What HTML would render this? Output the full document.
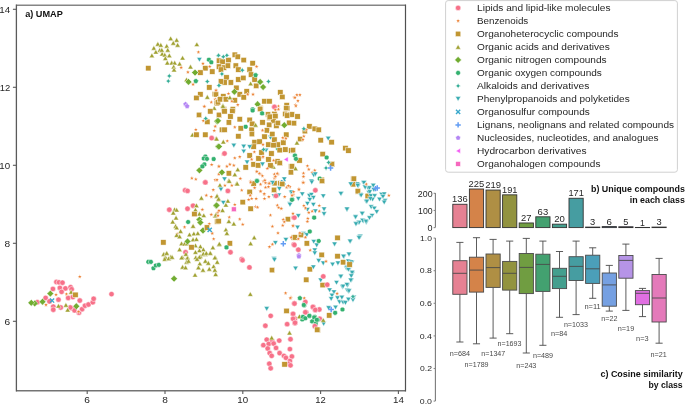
<!DOCTYPE html>
<html><head><meta charset="utf-8"><style>
html,body{margin:0;padding:0;background:#fff;}
body{width:685px;height:404px;overflow:hidden;position:relative;}
svg{position:absolute;left:0;top:0;will-change:transform;}
text{font-family:'Liberation Sans', sans-serif;}
</style></head><body>
<svg width="685" height="404" viewBox="0 0 685 404">

<clipPath id="ca"><rect x="16.5" y="5.5" width="389" height="385"/></clipPath>
<g clip-path="url(#ca)">
<polygon points="170.69,35.99 173.38,40.64 168.01,40.64" fill="#a0a131" stroke="#fff" stroke-width="0.5"/>
<polygon points="176.63,37.58 179.32,42.23 173.95,42.23" fill="#a0a131" stroke="#fff" stroke-width="0.5"/>
<polygon points="173.27,40.55 175.95,45.20 170.58,45.20" fill="#a0a131" stroke="#fff" stroke-width="0.5"/>
<polygon points="177.62,42.53 180.31,47.18 174.94,47.18" fill="#a0a131" stroke="#fff" stroke-width="0.5"/>
<polygon points="157.82,41.54 160.51,46.19 155.14,46.19" fill="#a0a131" stroke="#fff" stroke-width="0.5"/>
<polygon points="160.79,42.53 163.48,47.18 158.11,47.18" fill="#a0a131" stroke="#fff" stroke-width="0.5"/>
<polygon points="153.86,45.50 156.55,50.15 151.18,50.15" fill="#a0a131" stroke="#fff" stroke-width="0.5"/>
<polygon points="159.80,47.48 162.49,52.13 157.12,52.13" fill="#a0a131" stroke="#fff" stroke-width="0.5"/>
<polygon points="166.73,43.52 169.42,48.17 164.05,48.17" fill="#a0a131" stroke="#fff" stroke-width="0.5"/>
<polygon points="167.72,47.48 170.41,52.13 165.04,52.13" fill="#a0a131" stroke="#fff" stroke-width="0.5"/>
<polygon points="155.84,49.46 158.53,54.11 153.16,54.11" fill="#a0a131" stroke="#fff" stroke-width="0.5"/>
<polygon points="162.18,51.44 164.86,56.09 159.49,56.09" fill="#a0a131" stroke="#fff" stroke-width="0.5"/>
<polygon points="164.75,52.43 167.44,57.08 162.07,57.08" fill="#a0a131" stroke="#fff" stroke-width="0.5"/>
<polygon points="169.31,53.02 171.99,57.67 166.62,57.67" fill="#a0a131" stroke="#fff" stroke-width="0.5"/>
<polygon points="151.88,53.02 154.57,57.67 149.20,57.67" fill="#a0a131" stroke="#fff" stroke-width="0.5"/>
<polygon points="165.35,55.79 168.03,60.44 162.66,60.44" fill="#a0a131" stroke="#fff" stroke-width="0.5"/>
<polygon points="167.33,60.35 170.01,65.00 164.64,65.00" fill="#a0a131" stroke="#fff" stroke-width="0.5"/>
<polygon points="171.68,60.35 174.37,65.00 169.00,65.00" fill="#a0a131" stroke="#fff" stroke-width="0.5"/>
<polygon points="174.65,60.35 177.34,65.00 171.97,65.00" fill="#a0a131" stroke="#fff" stroke-width="0.5"/>
<polygon points="179.60,61.34 182.29,65.99 176.92,65.99" fill="#a0a131" stroke="#fff" stroke-width="0.5"/>
<polygon points="173.66,64.31 176.35,68.96 170.98,68.96" fill="#a0a131" stroke="#fff" stroke-width="0.5"/>
<polygon points="174.06,67.28 176.74,71.93 171.37,71.93" fill="#a0a131" stroke="#fff" stroke-width="0.5"/>
<polygon points="182.57,55.40 185.26,60.05 179.89,60.05" fill="#a0a131" stroke="#fff" stroke-width="0.5"/>
<polygon points="196.83,41.93 199.52,46.58 194.15,46.58" fill="#a0a131" stroke="#fff" stroke-width="0.5"/>
<polygon points="190.50,64.31 193.18,68.96 187.81,68.96" fill="#a0a131" stroke="#fff" stroke-width="0.5"/>
<polygon points="186.53,77.18 189.22,81.83 183.85,81.83" fill="#a0a131" stroke="#fff" stroke-width="0.5"/>
<polygon points="207.33,94.61 210.01,99.26 204.64,99.26" fill="#a0a131" stroke="#fff" stroke-width="0.5"/>
<polygon points="161.78,47.48 164.47,52.13 159.10,52.13" fill="#a0a131" stroke="#fff" stroke-width="0.5"/>
<rect x="145.62" y="65.52" width="5.40" height="5.40" fill="#c19632" stroke="#fff" stroke-width="0.5"/>
<rect x="202.65" y="65.52" width="5.40" height="5.40" fill="#c19632" stroke="#fff" stroke-width="0.5"/>
<rect x="197.70" y="69.87" width="5.40" height="5.40" fill="#c19632" stroke="#fff" stroke-width="0.5"/>
<rect x="209.58" y="68.88" width="5.40" height="5.40" fill="#c19632" stroke="#fff" stroke-width="0.5"/>
<rect x="206.61" y="84.73" width="5.40" height="5.40" fill="#c19632" stroke="#fff" stroke-width="0.5"/>
<rect x="197.70" y="91.66" width="5.40" height="5.40" fill="#c19632" stroke="#fff" stroke-width="0.5"/>
<rect x="193.74" y="95.22" width="5.40" height="5.40" fill="#c19632" stroke="#fff" stroke-width="0.5"/>
<rect x="212.15" y="91.26" width="5.40" height="5.40" fill="#c19632" stroke="#fff" stroke-width="0.5"/>
<rect x="214.13" y="100.57" width="5.40" height="5.40" fill="#c19632" stroke="#fff" stroke-width="0.5"/>
<polygon points="198.42,49.98 199.03,51.33 200.51,51.50 199.41,52.50 199.71,53.96 198.42,53.23 197.12,53.96 197.42,52.50 196.32,51.50 197.80,51.33" fill="#eb8032" stroke="#fff" stroke-width="0.5"/>
<polygon points="202.97,61.46 203.59,62.81 205.06,62.98 203.97,63.99 204.26,65.44 202.97,64.71 201.68,65.44 201.97,63.99 200.88,62.98 202.35,62.81" fill="#eb8032" stroke="#fff" stroke-width="0.5"/>
<polygon points="209.70,64.43 210.32,65.78 211.80,65.95 210.70,66.96 211.00,68.41 209.70,67.68 208.41,68.41 208.70,66.96 207.61,65.95 209.09,65.78" fill="#eb8032" stroke="#fff" stroke-width="0.5"/>
<polygon points="181.19,65.42 181.81,66.77 183.28,66.94 182.19,67.95 182.48,69.40 181.19,68.67 179.89,69.40 180.19,67.95 179.10,66.94 180.57,66.77" fill="#eb8032" stroke="#fff" stroke-width="0.5"/>
<polygon points="187.92,69.98 188.54,71.33 190.01,71.50 188.92,72.50 189.21,73.96 187.92,73.23 186.63,73.96 186.92,72.50 185.83,71.50 187.30,71.33" fill="#eb8032" stroke="#fff" stroke-width="0.5"/>
<polygon points="193.07,82.26 193.69,83.61 195.16,83.78 194.07,84.78 194.36,86.24 193.07,85.51 191.78,86.24 192.07,84.78 190.98,83.78 192.45,83.61" fill="#eb8032" stroke="#fff" stroke-width="0.5"/>
<polygon points="216.24,88.20 216.85,89.55 218.33,89.72 217.24,90.72 217.53,92.18 216.24,91.45 214.94,92.18 215.24,90.72 214.15,89.72 215.62,89.55" fill="#eb8032" stroke="#fff" stroke-width="0.5"/>
<polygon points="215.25,97.11 215.86,98.46 217.34,98.63 216.25,99.63 216.54,101.09 215.25,100.36 213.95,101.09 214.25,99.63 213.16,98.63 214.63,98.46" fill="#eb8032" stroke="#fff" stroke-width="0.5"/>
<polygon points="211.29,100.08 211.90,101.43 213.38,101.60 212.29,102.60 212.58,104.06 211.29,103.33 209.99,104.06 210.29,102.60 209.19,101.60 210.67,101.43" fill="#eb8032" stroke="#fff" stroke-width="0.5"/>
<polygon points="204.36,104.04 204.97,105.39 206.45,105.56 205.36,106.56 205.65,108.02 204.36,107.29 203.06,108.02 203.36,106.56 202.26,105.56 203.74,105.39" fill="#eb8032" stroke="#fff" stroke-width="0.5"/>
<polygon points="199.41,62.03 196.72,57.38 202.09,57.38" fill="#36abb0" stroke="#fff" stroke-width="0.5"/>
<polygon points="209.87,57.39 211.22,58.75 211.22,60.66 209.87,62.01 207.95,62.01 206.60,60.66 206.60,58.75 207.95,57.39" fill="#33b16f" stroke="#fff" stroke-width="0.5"/>
<polygon points="212.24,59.97 213.60,61.32 213.60,63.23 212.24,64.59 210.33,64.59 208.98,63.23 208.98,61.32 210.33,59.97" fill="#33b16f" stroke="#fff" stroke-width="0.5"/>
<polygon points="196.80,78.78 198.15,80.13 198.15,82.05 196.80,83.40 194.88,83.40 193.53,82.05 193.53,80.13 194.88,78.78" fill="#33b16f" stroke="#fff" stroke-width="0.5"/>
<polygon points="195.05,69.17 198.45,72.57 195.05,75.97 191.65,72.57" fill="#71ac31" stroke="#fff" stroke-width="0.5"/>
<polygon points="188.51,78.48 191.91,81.88 188.51,85.28 185.11,81.88" fill="#71ac31" stroke="#fff" stroke-width="0.5"/>
<polygon points="169.31,73.24 170.26,74.99 172.01,75.94 170.26,76.90 169.31,78.64 168.35,76.90 166.61,75.94 168.35,74.99" fill="#35ae97" stroke="#fff" stroke-width="0.5"/>
<polygon points="168.32,78.39 169.27,80.13 171.02,81.09 169.27,82.04 168.32,83.79 167.36,82.04 165.62,81.09 167.36,80.13" fill="#35ae97" stroke="#fff" stroke-width="0.5"/>
<polygon points="207.33,78.79 208.28,80.53 210.03,81.49 208.28,82.44 207.33,84.19 206.37,82.44 204.63,81.49 206.37,80.53" fill="#35ae97" stroke="#fff" stroke-width="0.5"/>
<polygon points="218.22,53.04 219.17,54.79 220.92,55.74 219.17,56.70 218.22,58.44 217.26,56.70 215.52,55.74 217.26,54.79" fill="#35ae97" stroke="#fff" stroke-width="0.5"/>
<polygon points="185.54,101.56 188.11,103.42 187.13,106.44 183.96,106.44 182.98,103.42" fill="#b486f4" stroke="#fff" stroke-width="0.5"/>
<polygon points="187.13,103.54 189.70,105.40 188.72,108.42 185.54,108.42 184.56,105.40" fill="#b486f4" stroke="#fff" stroke-width="0.5"/>
<rect x="216.26" y="57.99" width="5.40" height="5.40" fill="#c19632" stroke="#fff" stroke-width="0.5"/>
<rect x="219.82" y="58.98" width="5.40" height="5.40" fill="#c19632" stroke="#fff" stroke-width="0.5"/>
<rect x="225.77" y="57.40" width="5.40" height="5.40" fill="#c19632" stroke="#fff" stroke-width="0.5"/>
<rect x="216.26" y="63.93" width="5.40" height="5.40" fill="#c19632" stroke="#fff" stroke-width="0.5"/>
<rect x="221.21" y="64.92" width="5.40" height="5.40" fill="#c19632" stroke="#fff" stroke-width="0.5"/>
<rect x="225.17" y="62.94" width="5.40" height="5.40" fill="#c19632" stroke="#fff" stroke-width="0.5"/>
<rect x="218.24" y="66.90" width="5.40" height="5.40" fill="#c19632" stroke="#fff" stroke-width="0.5"/>
<rect x="232.10" y="52.05" width="5.40" height="5.40" fill="#c19632" stroke="#fff" stroke-width="0.5"/>
<rect x="235.07" y="54.03" width="5.40" height="5.40" fill="#c19632" stroke="#fff" stroke-width="0.5"/>
<rect x="241.01" y="57.40" width="5.40" height="5.40" fill="#c19632" stroke="#fff" stroke-width="0.5"/>
<rect x="233.09" y="62.94" width="5.40" height="5.40" fill="#c19632" stroke="#fff" stroke-width="0.5"/>
<rect x="235.67" y="66.90" width="5.40" height="5.40" fill="#c19632" stroke="#fff" stroke-width="0.5"/>
<rect x="249.92" y="60.57" width="5.40" height="5.40" fill="#c19632" stroke="#fff" stroke-width="0.5"/>
<rect x="246.95" y="66.90" width="5.40" height="5.40" fill="#c19632" stroke="#fff" stroke-width="0.5"/>
<rect x="248.34" y="71.85" width="5.40" height="5.40" fill="#c19632" stroke="#fff" stroke-width="0.5"/>
<rect x="251.90" y="76.80" width="5.40" height="5.40" fill="#c19632" stroke="#fff" stroke-width="0.5"/>
<rect x="253.49" y="83.14" width="5.40" height="5.40" fill="#c19632" stroke="#fff" stroke-width="0.5"/>
<rect x="223.79" y="74.82" width="5.40" height="5.40" fill="#c19632" stroke="#fff" stroke-width="0.5"/>
<rect x="221.80" y="79.78" width="5.40" height="5.40" fill="#c19632" stroke="#fff" stroke-width="0.5"/>
<rect x="228.14" y="79.78" width="5.40" height="5.40" fill="#c19632" stroke="#fff" stroke-width="0.5"/>
<rect x="218.24" y="78.79" width="5.40" height="5.40" fill="#c19632" stroke="#fff" stroke-width="0.5"/>
<rect x="235.67" y="76.80" width="5.40" height="5.40" fill="#c19632" stroke="#fff" stroke-width="0.5"/>
<rect x="240.62" y="75.22" width="5.40" height="5.40" fill="#c19632" stroke="#fff" stroke-width="0.5"/>
<rect x="233.69" y="85.12" width="5.40" height="5.40" fill="#c19632" stroke="#fff" stroke-width="0.5"/>
<rect x="213.29" y="91.66" width="5.40" height="5.40" fill="#c19632" stroke="#fff" stroke-width="0.5"/>
<rect x="220.62" y="93.64" width="5.40" height="5.40" fill="#c19632" stroke="#fff" stroke-width="0.5"/>
<rect x="223.19" y="96.61" width="5.40" height="5.40" fill="#c19632" stroke="#fff" stroke-width="0.5"/>
<rect x="215.27" y="99.58" width="5.40" height="5.40" fill="#c19632" stroke="#fff" stroke-width="0.5"/>
<rect x="217.25" y="96.61" width="5.40" height="5.40" fill="#c19632" stroke="#fff" stroke-width="0.5"/>
<rect x="237.05" y="91.66" width="5.40" height="5.40" fill="#c19632" stroke="#fff" stroke-width="0.5"/>
<rect x="241.01" y="94.63" width="5.40" height="5.40" fill="#c19632" stroke="#fff" stroke-width="0.5"/>
<rect x="243.98" y="88.69" width="5.40" height="5.40" fill="#c19632" stroke="#fff" stroke-width="0.5"/>
<rect x="232.10" y="97.60" width="5.40" height="5.40" fill="#c19632" stroke="#fff" stroke-width="0.5"/>
<rect x="261.80" y="98.59" width="5.40" height="5.40" fill="#c19632" stroke="#fff" stroke-width="0.5"/>
<rect x="266.76" y="98.59" width="5.40" height="5.40" fill="#c19632" stroke="#fff" stroke-width="0.5"/>
<rect x="277.65" y="89.68" width="5.40" height="5.40" fill="#c19632" stroke="#fff" stroke-width="0.5"/>
<rect x="279.63" y="94.23" width="5.40" height="5.40" fill="#c19632" stroke="#fff" stroke-width="0.5"/>
<rect x="283.98" y="102.55" width="5.40" height="5.40" fill="#c19632" stroke="#fff" stroke-width="0.5"/>
<rect x="284.58" y="105.52" width="5.40" height="5.40" fill="#c19632" stroke="#fff" stroke-width="0.5"/>
<rect x="257.84" y="105.52" width="5.40" height="5.40" fill="#c19632" stroke="#fff" stroke-width="0.5"/>
<rect x="221.21" y="106.51" width="5.40" height="5.40" fill="#c19632" stroke="#fff" stroke-width="0.5"/>
<rect x="230.12" y="106.51" width="5.40" height="5.40" fill="#c19632" stroke="#fff" stroke-width="0.5"/>
<polygon points="218.56,52.65 219.52,54.39 221.26,55.35 219.52,56.30 218.56,58.05 217.61,56.30 215.86,55.35 217.61,54.39" fill="#35ae97" stroke="#fff" stroke-width="0.5"/>
<polygon points="223.32,54.03 224.27,55.78 226.02,56.73 224.27,57.69 223.32,59.43 222.36,57.69 220.62,56.73 222.36,55.78" fill="#35ae97" stroke="#fff" stroke-width="0.5"/>
<polygon points="226.88,52.65 227.84,54.39 229.58,55.35 227.84,56.30 226.88,58.05 225.93,56.30 224.18,55.35 225.93,54.39" fill="#35ae97" stroke="#fff" stroke-width="0.5"/>
<polygon points="221.93,71.26 222.89,73.01 224.63,73.96 222.89,74.91 221.93,76.66 220.98,74.91 219.23,73.96 220.98,73.01" fill="#35ae97" stroke="#fff" stroke-width="0.5"/>
<polygon points="242.33,67.50 243.28,69.24 245.03,70.20 243.28,71.15 242.33,72.90 241.37,71.15 239.63,70.20 241.37,69.24" fill="#35ae97" stroke="#fff" stroke-width="0.5"/>
<polygon points="268.47,78.79 269.42,80.53 271.17,81.49 269.42,82.44 268.47,84.19 267.51,82.44 265.77,81.49 267.51,80.53" fill="#35ae97" stroke="#fff" stroke-width="0.5"/>
<polygon points="218.96,82.75 219.91,84.49 221.66,85.45 219.91,86.40 218.96,88.15 218.01,86.40 216.26,85.45 218.01,84.49" fill="#35ae97" stroke="#fff" stroke-width="0.5"/>
<polygon points="256.58,64.43 257.20,65.78 258.68,65.95 257.58,66.96 257.88,68.41 256.58,67.68 255.29,68.41 255.59,66.96 254.49,65.95 255.97,65.78" fill="#eb8032" stroke="#fff" stroke-width="0.5"/>
<polygon points="215.99,88.20 216.61,89.55 218.08,89.72 216.99,90.72 217.28,92.18 215.99,91.45 214.70,92.18 214.99,90.72 213.90,89.72 215.37,89.55" fill="#eb8032" stroke="#fff" stroke-width="0.5"/>
<polygon points="228.47,91.56 229.08,92.91 230.56,93.08 229.46,94.09 229.76,95.54 228.47,94.81 227.17,95.54 227.47,94.09 226.37,93.08 227.85,92.91" fill="#eb8032" stroke="#fff" stroke-width="0.5"/>
<polygon points="253.02,92.16 253.64,93.51 255.11,93.68 254.02,94.68 254.31,96.14 253.02,95.41 251.73,96.14 252.02,94.68 250.93,93.68 252.40,93.51" fill="#eb8032" stroke="#fff" stroke-width="0.5"/>
<polygon points="247.67,92.16 248.29,93.51 249.77,93.68 248.67,94.68 248.97,96.14 247.67,95.41 246.38,96.14 246.67,94.68 245.58,93.68 247.06,93.51" fill="#eb8032" stroke="#fff" stroke-width="0.5"/>
<polygon points="231.83,99.09 232.45,100.44 233.92,100.61 232.83,101.61 233.12,103.07 231.83,102.34 230.54,103.07 230.83,101.61 229.74,100.61 231.21,100.44" fill="#eb8032" stroke="#fff" stroke-width="0.5"/>
<polygon points="237.77,102.65 238.39,104.00 239.86,104.17 238.77,105.18 239.07,106.63 237.77,105.90 236.48,106.63 236.77,105.18 235.68,104.17 237.16,104.00" fill="#eb8032" stroke="#fff" stroke-width="0.5"/>
<polygon points="278.37,104.04 278.98,105.39 280.46,105.56 279.36,106.56 279.66,108.02 278.37,107.29 277.07,108.02 277.37,106.56 276.27,105.56 277.75,105.39" fill="#eb8032" stroke="#fff" stroke-width="0.5"/>
<polygon points="294.21,95.13 294.83,96.48 296.30,96.65 295.21,97.65 295.50,99.11 294.21,98.38 292.91,99.11 293.21,97.65 292.12,96.65 293.59,96.48" fill="#eb8032" stroke="#fff" stroke-width="0.5"/>
<polygon points="260.15,78.48 263.55,81.88 260.15,85.28 256.75,81.88" fill="#71ac31" stroke="#fff" stroke-width="0.5"/>
<polygon points="263.12,83.63 266.52,87.03 263.12,90.43 259.72,87.03" fill="#71ac31" stroke="#fff" stroke-width="0.5"/>
<polygon points="234.41,88.38 237.81,91.78 234.41,95.18 231.01,91.78" fill="#71ac31" stroke="#fff" stroke-width="0.5"/>
<polygon points="257.57,100.86 260.97,104.26 257.57,107.66 254.17,104.26" fill="#71ac31" stroke="#fff" stroke-width="0.5"/>
<polygon points="250.64,81.14 253.33,85.79 247.96,85.79" fill="#a0a131" stroke="#fff" stroke-width="0.5"/>
<polygon points="229.85,95.00 232.54,99.65 227.17,99.65" fill="#a0a131" stroke="#fff" stroke-width="0.5"/>
<polygon points="222.92,102.92 225.61,107.57 220.24,107.57" fill="#a0a131" stroke="#fff" stroke-width="0.5"/>
<polygon points="256.55,72.84 257.90,74.19 257.90,76.11 256.55,77.46 254.64,77.46 253.28,76.11 253.28,74.19 254.64,72.84" fill="#33b16f" stroke="#fff" stroke-width="0.5"/>
<polygon points="253.58,106.90 254.93,108.25 254.93,110.16 253.58,111.52 251.67,111.52 250.31,110.16 250.31,108.25 251.67,106.90" fill="#33b16f" stroke="#fff" stroke-width="0.5"/>
<circle cx="274.41" cy="106.83" r="2.70" fill="#f77189" stroke="#fff" stroke-width="0.5"/>
<polygon points="296.93,92.75 297.55,94.10 299.02,94.27 297.93,95.27 298.22,96.73 296.93,96.00 295.64,96.73 295.93,95.27 294.84,94.27 296.31,94.10" fill="#eb8032" stroke="#fff" stroke-width="0.5"/>
<polygon points="299.90,92.75 300.52,94.10 301.99,94.27 300.90,95.27 301.19,96.73 299.90,96.00 298.61,96.73 298.90,95.27 297.81,94.27 299.28,94.10" fill="#eb8032" stroke="#fff" stroke-width="0.5"/>
<polygon points="294.95,95.52 295.57,96.87 297.04,97.04 295.95,98.05 296.24,99.50 294.95,98.77 293.66,99.50 293.95,98.05 292.86,97.04 294.33,96.87" fill="#eb8032" stroke="#fff" stroke-width="0.5"/>
<polygon points="297.92,98.69 298.54,100.04 300.01,100.21 298.92,101.22 299.21,102.67 297.92,101.94 296.63,102.67 296.92,101.22 295.83,100.21 297.30,100.04" fill="#eb8032" stroke="#fff" stroke-width="0.5"/>
<polygon points="295.54,102.65 296.16,104.00 297.64,104.17 296.54,105.18 296.84,106.63 295.54,105.90 294.25,106.63 294.55,105.18 293.45,104.17 294.93,104.00" fill="#eb8032" stroke="#fff" stroke-width="0.5"/>
<polygon points="204.36,104.38 204.97,105.73 206.45,105.90 205.36,106.91 205.65,108.36 204.36,107.63 203.06,108.36 203.36,106.91 202.26,105.90 203.74,105.73" fill="#eb8032" stroke="#fff" stroke-width="0.5"/>
<polygon points="195.84,127.55 196.46,128.90 197.93,129.07 196.84,130.08 197.13,131.53 195.84,130.80 194.55,131.53 194.84,130.08 193.75,129.07 195.22,128.90" fill="#eb8032" stroke="#fff" stroke-width="0.5"/>
<polygon points="203.37,118.64 203.98,119.99 205.46,120.16 204.36,121.17 204.66,122.62 203.37,121.89 202.07,122.62 202.37,121.17 201.27,120.16 202.75,119.99" fill="#eb8032" stroke="#fff" stroke-width="0.5"/>
<polygon points="215.25,124.19 215.86,125.54 217.34,125.71 216.25,126.71 216.54,128.17 215.25,127.44 213.95,128.17 214.25,126.71 213.16,125.71 214.63,125.54" fill="#eb8032" stroke="#fff" stroke-width="0.5"/>
<polygon points="214.26,128.54 214.87,129.89 216.35,130.06 215.26,131.07 215.55,132.52 214.26,131.79 212.96,132.52 213.26,131.07 212.17,130.06 213.64,129.89" fill="#eb8032" stroke="#fff" stroke-width="0.5"/>
<polygon points="211.68,162.60 212.30,163.95 213.78,164.12 212.68,165.13 212.98,166.58 211.68,165.85 210.39,166.58 210.68,165.13 209.59,164.12 211.07,163.95" fill="#eb8032" stroke="#fff" stroke-width="0.5"/>
<polygon points="218.81,164.19 219.43,165.54 220.90,165.71 219.81,166.71 220.11,168.17 218.81,167.44 217.52,168.17 217.81,166.71 216.72,165.71 218.19,165.54" fill="#eb8032" stroke="#fff" stroke-width="0.5"/>
<polygon points="191.88,176.07 192.50,177.42 193.97,177.59 192.88,178.59 193.17,180.05 191.88,179.32 190.59,180.05 190.88,178.59 189.79,177.59 191.26,177.42" fill="#eb8032" stroke="#fff" stroke-width="0.5"/>
<polygon points="195.84,177.06 196.46,178.41 197.93,178.58 196.84,179.58 197.13,181.04 195.84,180.31 194.55,181.04 194.84,179.58 193.75,178.58 195.22,178.41" fill="#eb8032" stroke="#fff" stroke-width="0.5"/>
<polygon points="215.25,177.65 215.86,179.00 217.34,179.17 216.25,180.18 216.54,181.63 215.25,180.90 213.95,181.63 214.25,180.18 213.16,179.17 214.63,179.00" fill="#eb8032" stroke="#fff" stroke-width="0.5"/>
<polygon points="218.81,172.11 219.43,173.46 220.90,173.63 219.81,174.63 220.11,176.09 218.81,175.36 217.52,176.09 217.81,174.63 216.72,173.63 218.19,173.46" fill="#eb8032" stroke="#fff" stroke-width="0.5"/>
<polygon points="214.26,105.65 216.94,110.30 211.57,110.30" fill="#a0a131" stroke="#fff" stroke-width="0.5"/>
<polygon points="192.48,132.38 195.16,137.03 189.79,137.03" fill="#a0a131" stroke="#fff" stroke-width="0.5"/>
<polygon points="216.24,135.94 218.92,140.59 213.55,140.59" fill="#a0a131" stroke="#fff" stroke-width="0.5"/>
<rect x="207.60" y="108.64" width="5.40" height="5.40" fill="#c19632" stroke="#fff" stroke-width="0.5"/>
<rect x="196.31" y="112.20" width="5.40" height="5.40" fill="#c19632" stroke="#fff" stroke-width="0.5"/>
<rect x="204.63" y="119.13" width="5.40" height="5.40" fill="#c19632" stroke="#fff" stroke-width="0.5"/>
<rect x="193.74" y="132.00" width="5.40" height="5.40" fill="#c19632" stroke="#fff" stroke-width="0.5"/>
<rect x="202.65" y="132.00" width="5.40" height="5.40" fill="#c19632" stroke="#fff" stroke-width="0.5"/>
<polygon points="205.74,115.77 206.70,117.51 208.44,118.47 206.70,119.42 205.74,121.17 204.79,119.42 203.04,118.47 204.79,117.51" fill="#35ae97" stroke="#fff" stroke-width="0.5"/>
<polygon points="217.23,117.84 220.63,121.24 217.23,124.64 213.83,121.24" fill="#71ac31" stroke="#fff" stroke-width="0.5"/>
<polygon points="218.22,143.18 221.62,146.58 218.22,149.98 214.82,146.58" fill="#71ac31" stroke="#fff" stroke-width="0.5"/>
<polygon points="199.41,166.95 202.81,170.35 199.41,173.75 196.01,170.35" fill="#71ac31" stroke="#fff" stroke-width="0.5"/>
<circle cx="211.68" cy="138.07" r="2.70" fill="#f77189" stroke="#fff" stroke-width="0.5"/>
<circle cx="205.35" cy="182.23" r="2.70" fill="#f77189" stroke="#fff" stroke-width="0.5"/>
<polygon points="206.30,154.18 207.66,155.53 207.66,157.44 206.30,158.79 204.39,158.79 203.04,157.44 203.04,155.53 204.39,154.18" fill="#33b16f" stroke="#fff" stroke-width="0.5"/>
<polygon points="204.72,156.16 206.07,157.51 206.07,159.42 204.72,160.78 202.81,160.78 201.45,159.42 201.45,157.51 202.81,156.16" fill="#33b16f" stroke="#fff" stroke-width="0.5"/>
<polygon points="207.89,156.55 209.24,157.90 209.24,159.82 207.89,161.17 205.97,161.17 204.62,159.82 204.62,157.90 205.97,156.55" fill="#33b16f" stroke="#fff" stroke-width="0.5"/>
<polygon points="214.62,156.75 215.97,158.10 215.97,160.02 214.62,161.37 212.71,161.37 211.35,160.02 211.35,158.10 212.71,156.75" fill="#33b16f" stroke="#fff" stroke-width="0.5"/>
<polygon points="205.31,162.10 206.67,163.45 206.67,165.36 205.31,166.72 203.40,166.72 202.05,165.36 202.05,163.45 203.40,162.10" fill="#33b16f" stroke="#fff" stroke-width="0.5"/>
<polygon points="203.33,164.08 204.69,165.43 204.69,167.34 203.33,168.70 201.42,168.70 200.07,167.34 200.07,165.43 201.42,164.08" fill="#33b16f" stroke="#fff" stroke-width="0.5"/>
<rect x="216.26" y="112.20" width="5.40" height="5.40" fill="#c19632" stroke="#fff" stroke-width="0.5"/>
<rect x="221.80" y="108.64" width="5.40" height="5.40" fill="#c19632" stroke="#fff" stroke-width="0.5"/>
<rect x="229.73" y="108.24" width="5.40" height="5.40" fill="#c19632" stroke="#fff" stroke-width="0.5"/>
<rect x="227.75" y="113.79" width="5.40" height="5.40" fill="#c19632" stroke="#fff" stroke-width="0.5"/>
<rect x="226.16" y="119.73" width="5.40" height="5.40" fill="#c19632" stroke="#fff" stroke-width="0.5"/>
<rect x="237.05" y="116.56" width="5.40" height="5.40" fill="#c19632" stroke="#fff" stroke-width="0.5"/>
<rect x="246.95" y="117.15" width="5.40" height="5.40" fill="#c19632" stroke="#fff" stroke-width="0.5"/>
<rect x="249.53" y="121.11" width="5.40" height="5.40" fill="#c19632" stroke="#fff" stroke-width="0.5"/>
<rect x="238.04" y="125.67" width="5.40" height="5.40" fill="#c19632" stroke="#fff" stroke-width="0.5"/>
<rect x="248.93" y="127.05" width="5.40" height="5.40" fill="#c19632" stroke="#fff" stroke-width="0.5"/>
<rect x="219.23" y="127.05" width="5.40" height="5.40" fill="#c19632" stroke="#fff" stroke-width="0.5"/>
<rect x="221.80" y="127.05" width="5.40" height="5.40" fill="#c19632" stroke="#fff" stroke-width="0.5"/>
<rect x="235.67" y="133.59" width="5.40" height="5.40" fill="#c19632" stroke="#fff" stroke-width="0.5"/>
<rect x="257.45" y="106.26" width="5.40" height="5.40" fill="#c19632" stroke="#fff" stroke-width="0.5"/>
<rect x="265.37" y="111.80" width="5.40" height="5.40" fill="#c19632" stroke="#fff" stroke-width="0.5"/>
<rect x="271.71" y="111.21" width="5.40" height="5.40" fill="#c19632" stroke="#fff" stroke-width="0.5"/>
<rect x="266.76" y="115.17" width="5.40" height="5.40" fill="#c19632" stroke="#fff" stroke-width="0.5"/>
<rect x="259.82" y="119.73" width="5.40" height="5.40" fill="#c19632" stroke="#fff" stroke-width="0.5"/>
<rect x="270.72" y="118.14" width="5.40" height="5.40" fill="#c19632" stroke="#fff" stroke-width="0.5"/>
<rect x="273.69" y="123.09" width="5.40" height="5.40" fill="#c19632" stroke="#fff" stroke-width="0.5"/>
<rect x="264.18" y="127.65" width="5.40" height="5.40" fill="#c19632" stroke="#fff" stroke-width="0.5"/>
<rect x="261.80" y="133.98" width="5.40" height="5.40" fill="#c19632" stroke="#fff" stroke-width="0.5"/>
<rect x="271.71" y="136.95" width="5.40" height="5.40" fill="#c19632" stroke="#fff" stroke-width="0.5"/>
<rect x="280.62" y="139.92" width="5.40" height="5.40" fill="#c19632" stroke="#fff" stroke-width="0.5"/>
<rect x="282.60" y="146.85" width="5.40" height="5.40" fill="#c19632" stroke="#fff" stroke-width="0.5"/>
<rect x="288.54" y="147.84" width="5.40" height="5.40" fill="#c19632" stroke="#fff" stroke-width="0.5"/>
<rect x="251.90" y="139.53" width="5.40" height="5.40" fill="#c19632" stroke="#fff" stroke-width="0.5"/>
<rect x="250.91" y="143.88" width="5.40" height="5.40" fill="#c19632" stroke="#fff" stroke-width="0.5"/>
<rect x="265.77" y="141.90" width="5.40" height="5.40" fill="#c19632" stroke="#fff" stroke-width="0.5"/>
<rect x="268.74" y="150.81" width="5.40" height="5.40" fill="#c19632" stroke="#fff" stroke-width="0.5"/>
<rect x="258.83" y="149.82" width="5.40" height="5.40" fill="#c19632" stroke="#fff" stroke-width="0.5"/>
<rect x="246.95" y="152.80" width="5.40" height="5.40" fill="#c19632" stroke="#fff" stroke-width="0.5"/>
<rect x="255.86" y="155.77" width="5.40" height="5.40" fill="#c19632" stroke="#fff" stroke-width="0.5"/>
<rect x="265.77" y="156.76" width="5.40" height="5.40" fill="#c19632" stroke="#fff" stroke-width="0.5"/>
<rect x="274.68" y="158.74" width="5.40" height="5.40" fill="#c19632" stroke="#fff" stroke-width="0.5"/>
<rect x="250.91" y="161.71" width="5.40" height="5.40" fill="#c19632" stroke="#fff" stroke-width="0.5"/>
<rect x="255.47" y="162.70" width="5.40" height="5.40" fill="#c19632" stroke="#fff" stroke-width="0.5"/>
<rect x="242.99" y="164.68" width="5.40" height="5.40" fill="#c19632" stroke="#fff" stroke-width="0.5"/>
<rect x="226.16" y="170.62" width="5.40" height="5.40" fill="#c19632" stroke="#fff" stroke-width="0.5"/>
<rect x="288.54" y="163.69" width="5.40" height="5.40" fill="#c19632" stroke="#fff" stroke-width="0.5"/>
<rect x="277.65" y="180.52" width="5.40" height="5.40" fill="#c19632" stroke="#fff" stroke-width="0.5"/>
<rect x="271.71" y="180.52" width="5.40" height="5.40" fill="#c19632" stroke="#fff" stroke-width="0.5"/>
<rect x="283.59" y="105.27" width="5.40" height="5.40" fill="#c19632" stroke="#fff" stroke-width="0.5"/>
<rect x="282.60" y="111.21" width="5.40" height="5.40" fill="#c19632" stroke="#fff" stroke-width="0.5"/>
<rect x="287.55" y="111.80" width="5.40" height="5.40" fill="#c19632" stroke="#fff" stroke-width="0.5"/>
<rect x="286.56" y="120.12" width="5.40" height="5.40" fill="#c19632" stroke="#fff" stroke-width="0.5"/>
<rect x="283.59" y="132.00" width="5.40" height="5.40" fill="#c19632" stroke="#fff" stroke-width="0.5"/>
<rect x="256.85" y="138.93" width="5.40" height="5.40" fill="#c19632" stroke="#fff" stroke-width="0.5"/>
<polygon points="253.58,108.23 254.93,109.59 254.93,111.50 253.58,112.85 251.67,112.85 250.31,111.50 250.31,109.59 251.67,108.23" fill="#33b16f" stroke="#fff" stroke-width="0.5"/>
<polygon points="263.09,111.01 264.44,112.36 264.44,114.27 263.09,115.63 261.17,115.63 259.82,114.27 259.82,112.36 261.17,111.01" fill="#33b16f" stroke="#fff" stroke-width="0.5"/>
<polygon points="246.65,124.47 248.00,125.83 248.00,127.74 246.65,129.09 244.74,129.09 243.38,127.74 243.38,125.83 244.74,124.47" fill="#33b16f" stroke="#fff" stroke-width="0.5"/>
<polygon points="278.93,146.25 280.28,147.61 280.28,149.52 278.93,150.87 277.01,150.87 275.66,149.52 275.66,147.61 277.01,146.25" fill="#33b16f" stroke="#fff" stroke-width="0.5"/>
<polygon points="257.94,178.33 259.29,179.69 259.29,181.60 257.94,182.95 256.02,182.95 254.67,181.60 254.67,179.69 256.02,178.33" fill="#33b16f" stroke="#fff" stroke-width="0.5"/>
<polygon points="222.92,103.67 225.61,108.32 220.24,108.32" fill="#a0a131" stroke="#fff" stroke-width="0.5"/>
<polygon points="216.58,136.34 219.27,140.99 213.90,140.99" fill="#a0a131" stroke="#fff" stroke-width="0.5"/>
<polygon points="223.32,139.31 226.00,143.96 220.63,143.96" fill="#a0a131" stroke="#fff" stroke-width="0.5"/>
<polygon points="255.59,122.48 258.28,127.13 252.91,127.13" fill="#a0a131" stroke="#fff" stroke-width="0.5"/>
<polygon points="273.42,164.46 276.10,169.11 270.73,169.11" fill="#a0a131" stroke="#fff" stroke-width="0.5"/>
<polygon points="237.77,167.03 240.46,171.68 235.09,171.68" fill="#a0a131" stroke="#fff" stroke-width="0.5"/>
<polygon points="234.80,171.98 237.49,176.63 232.12,176.63" fill="#a0a131" stroke="#fff" stroke-width="0.5"/>
<polygon points="228.86,177.92 231.55,182.57 226.18,182.57" fill="#a0a131" stroke="#fff" stroke-width="0.5"/>
<polygon points="236.78,180.89 239.47,185.54 234.10,185.54" fill="#a0a131" stroke="#fff" stroke-width="0.5"/>
<polygon points="217.97,117.44 221.37,120.84 217.97,124.24 214.57,120.84" fill="#71ac31" stroke="#fff" stroke-width="0.5"/>
<polygon points="284.31,121.80 287.71,125.20 284.31,128.60 280.91,125.20" fill="#71ac31" stroke="#fff" stroke-width="0.5"/>
<polygon points="218.96,143.18 222.36,146.58 218.96,149.98 215.56,146.58" fill="#71ac31" stroke="#fff" stroke-width="0.5"/>
<polygon points="221.93,168.93 225.33,172.33 221.93,175.73 218.53,172.33" fill="#71ac31" stroke="#fff" stroke-width="0.5"/>
<polygon points="234.80,124.98 235.42,126.33 236.89,126.50 235.80,127.50 236.10,128.96 234.80,128.23 233.51,128.96 233.80,127.50 232.71,126.50 234.18,126.33" fill="#eb8032" stroke="#fff" stroke-width="0.5"/>
<polygon points="262.52,128.15 263.14,129.50 264.62,129.67 263.52,130.67 263.82,132.13 262.52,131.40 261.23,132.13 261.53,130.67 260.43,129.67 261.91,129.50" fill="#eb8032" stroke="#fff" stroke-width="0.5"/>
<polygon points="283.32,136.07 283.93,137.42 285.41,137.59 284.32,138.59 284.61,140.05 283.32,139.32 282.02,140.05 282.32,138.59 281.22,137.59 282.70,137.42" fill="#eb8032" stroke="#fff" stroke-width="0.5"/>
<polygon points="227.28,138.84 227.89,140.19 229.37,140.36 228.28,141.36 228.57,142.82 227.28,142.09 225.98,142.82 226.28,141.36 225.18,140.36 226.66,140.19" fill="#eb8032" stroke="#fff" stroke-width="0.5"/>
<polygon points="222.92,152.30 223.54,153.66 225.01,153.83 223.92,154.83 224.21,156.28 222.92,155.55 221.63,156.28 221.92,154.83 220.83,153.83 222.30,153.66" fill="#eb8032" stroke="#fff" stroke-width="0.5"/>
<polygon points="234.80,155.87 235.42,157.22 236.89,157.39 235.80,158.39 236.10,159.85 234.80,159.12 233.51,159.85 233.80,158.39 232.71,157.39 234.18,157.22" fill="#eb8032" stroke="#fff" stroke-width="0.5"/>
<polygon points="239.75,154.68 240.37,156.03 241.84,156.20 240.75,157.21 241.05,158.66 239.75,157.93 238.46,158.66 238.75,157.21 237.66,156.20 239.14,156.03" fill="#eb8032" stroke="#fff" stroke-width="0.5"/>
<polygon points="251.63,157.26 252.25,158.61 253.73,158.78 252.63,159.78 252.93,161.24 251.63,160.51 250.34,161.24 250.64,159.78 249.54,158.78 251.02,158.61" fill="#eb8032" stroke="#fff" stroke-width="0.5"/>
<polygon points="229.85,162.21 230.47,163.56 231.94,163.73 230.85,164.73 231.14,166.19 229.85,165.46 228.56,166.19 228.85,164.73 227.76,163.73 229.23,163.56" fill="#eb8032" stroke="#fff" stroke-width="0.5"/>
<polygon points="233.81,163.20 234.43,164.55 235.90,164.72 234.81,165.72 235.11,167.18 233.81,166.45 232.52,167.18 232.81,165.72 231.72,164.72 233.19,164.55" fill="#eb8032" stroke="#fff" stroke-width="0.5"/>
<polygon points="218.96,164.19 219.58,165.54 221.05,165.71 219.96,166.71 220.25,168.17 218.96,167.44 217.67,168.17 217.96,166.71 216.87,165.71 218.34,165.54" fill="#eb8032" stroke="#fff" stroke-width="0.5"/>
<polygon points="226.88,164.19 227.50,165.54 228.97,165.71 227.88,166.71 228.17,168.17 226.88,167.44 225.59,168.17 225.88,166.71 224.79,165.71 226.26,165.54" fill="#eb8032" stroke="#fff" stroke-width="0.5"/>
<polygon points="256.58,169.14 257.20,170.49 258.68,170.66 257.58,171.66 257.88,173.12 256.58,172.39 255.29,173.12 255.59,171.66 254.49,170.66 255.97,170.49" fill="#eb8032" stroke="#fff" stroke-width="0.5"/>
<polygon points="260.54,172.11 261.16,173.46 262.64,173.63 261.54,174.63 261.84,176.09 260.54,175.36 259.25,176.09 259.55,174.63 258.45,173.63 259.93,173.46" fill="#eb8032" stroke="#fff" stroke-width="0.5"/>
<polygon points="262.52,155.28 263.14,156.63 264.62,156.80 263.52,157.80 263.82,159.26 262.52,158.53 261.23,159.26 261.53,157.80 260.43,156.80 261.91,156.63" fill="#eb8032" stroke="#fff" stroke-width="0.5"/>
<polygon points="274.41,172.11 275.02,173.46 276.50,173.63 275.40,174.63 275.70,176.09 274.41,175.36 273.11,176.09 273.41,174.63 272.31,173.63 273.79,173.46" fill="#eb8032" stroke="#fff" stroke-width="0.5"/>
<polygon points="277.97,172.11 278.59,173.46 280.06,173.63 278.97,174.63 279.26,176.09 277.97,175.36 276.68,176.09 276.97,174.63 275.88,173.63 277.35,173.46" fill="#eb8032" stroke="#fff" stroke-width="0.5"/>
<polygon points="274.41,176.07 275.02,177.42 276.50,177.59 275.40,178.59 275.70,180.05 274.41,179.32 273.11,180.05 273.41,178.59 272.31,177.59 273.79,177.42" fill="#eb8032" stroke="#fff" stroke-width="0.5"/>
<polygon points="216.98,177.65 217.60,179.00 219.07,179.17 217.98,180.18 218.27,181.63 216.98,180.90 215.69,181.63 215.98,180.18 214.89,179.17 216.36,179.00" fill="#eb8032" stroke="#fff" stroke-width="0.5"/>
<polygon points="240.35,176.46 240.96,177.81 242.44,177.98 241.35,178.99 241.64,180.44 240.35,179.71 239.05,180.44 239.35,178.99 238.25,177.98 239.73,177.81" fill="#eb8032" stroke="#fff" stroke-width="0.5"/>
<polygon points="263.51,179.04 264.13,180.39 265.61,180.56 264.51,181.56 264.81,183.02 263.51,182.29 262.22,183.02 262.52,181.56 261.42,180.56 262.90,180.39" fill="#eb8032" stroke="#fff" stroke-width="0.5"/>
<polygon points="250.64,179.04 251.26,180.39 252.74,180.56 251.64,181.56 251.94,183.02 250.64,182.29 249.35,183.02 249.64,181.56 248.55,180.56 250.03,180.39" fill="#eb8032" stroke="#fff" stroke-width="0.5"/>
<polygon points="268.47,181.02 269.08,182.37 270.56,182.54 269.46,183.54 269.76,185.00 268.47,184.27 267.17,185.00 267.47,183.54 266.37,182.54 267.85,182.37" fill="#eb8032" stroke="#fff" stroke-width="0.5"/>
<circle cx="224.50" cy="153.51" r="2.70" fill="#f77189" stroke="#fff" stroke-width="0.5"/>
<circle cx="274.41" cy="106.98" r="2.70" fill="#f77189" stroke="#fff" stroke-width="0.5"/>
<polygon points="270.45,140.00 267.76,135.35 273.13,135.35" fill="#36abb0" stroke="#fff" stroke-width="0.5"/>
<polygon points="233.81,147.92 231.13,143.27 236.50,143.27" fill="#36abb0" stroke="#fff" stroke-width="0.5"/>
<polygon points="243.71,148.91 241.03,144.26 246.40,144.26" fill="#36abb0" stroke="#fff" stroke-width="0.5"/>
<polygon points="249.65,149.31 246.97,144.66 252.34,144.66" fill="#36abb0" stroke="#fff" stroke-width="0.5"/>
<polygon points="243.71,153.86 241.03,149.21 246.40,149.21" fill="#36abb0" stroke="#fff" stroke-width="0.5"/>
<polygon points="266.09,152.87 263.40,148.22 268.77,148.22" fill="#36abb0" stroke="#fff" stroke-width="0.5"/>
<polygon points="247.08,164.75 244.39,160.10 249.76,160.10" fill="#36abb0" stroke="#fff" stroke-width="0.5"/>
<polygon points="262.52,166.73 259.84,162.08 265.21,162.08" fill="#36abb0" stroke="#fff" stroke-width="0.5"/>
<polygon points="224.50,181.58 221.82,176.93 227.19,176.93" fill="#36abb0" stroke="#fff" stroke-width="0.5"/>
<polygon points="284.31,181.58 281.62,176.93 286.99,176.93" fill="#36abb0" stroke="#fff" stroke-width="0.5"/>
<polygon points="272.43,185.15 269.74,180.50 275.11,180.50" fill="#36abb0" stroke="#fff" stroke-width="0.5"/>
<polygon points="283.64,159.46 288.14,156.86 288.14,162.05" fill="#f35cf4" stroke="#fff" stroke-width="0.5"/>
<polygon points="263.51,146.85 264.47,148.60 266.21,149.55 264.47,150.51 263.51,152.25 262.56,150.51 260.81,149.55 262.56,148.60" fill="#35ae97" stroke="#fff" stroke-width="0.5"/>
<polygon points="294.21,153.39 295.16,155.13 296.91,156.09 295.16,157.04 294.21,158.79 293.25,157.04 291.51,156.09 293.25,155.13" fill="#35ae97" stroke="#fff" stroke-width="0.5"/>
<rect x="289.28" y="111.80" width="5.40" height="5.40" fill="#c19632" stroke="#fff" stroke-width="0.5"/>
<rect x="294.82" y="113.79" width="5.40" height="5.40" fill="#c19632" stroke="#fff" stroke-width="0.5"/>
<rect x="291.26" y="120.52" width="5.40" height="5.40" fill="#c19632" stroke="#fff" stroke-width="0.5"/>
<rect x="306.71" y="123.69" width="5.40" height="5.40" fill="#c19632" stroke="#fff" stroke-width="0.5"/>
<rect x="312.05" y="126.06" width="5.40" height="5.40" fill="#c19632" stroke="#fff" stroke-width="0.5"/>
<rect x="316.01" y="127.05" width="5.40" height="5.40" fill="#c19632" stroke="#fff" stroke-width="0.5"/>
<rect x="317.99" y="137.55" width="5.40" height="5.40" fill="#c19632" stroke="#fff" stroke-width="0.5"/>
<rect x="328.88" y="139.53" width="5.40" height="5.40" fill="#c19632" stroke="#fff" stroke-width="0.5"/>
<rect x="342.75" y="145.47" width="5.40" height="5.40" fill="#c19632" stroke="#fff" stroke-width="0.5"/>
<rect x="345.72" y="147.84" width="5.40" height="5.40" fill="#c19632" stroke="#fff" stroke-width="0.5"/>
<rect x="297.60" y="136.36" width="5.40" height="5.40" fill="#c19632" stroke="#fff" stroke-width="0.5"/>
<rect x="290.27" y="147.45" width="5.40" height="5.40" fill="#c19632" stroke="#fff" stroke-width="0.5"/>
<rect x="296.80" y="157.75" width="5.40" height="5.40" fill="#c19632" stroke="#fff" stroke-width="0.5"/>
<rect x="319.97" y="151.41" width="5.40" height="5.40" fill="#c19632" stroke="#fff" stroke-width="0.5"/>
<rect x="329.28" y="161.31" width="5.40" height="5.40" fill="#c19632" stroke="#fff" stroke-width="0.5"/>
<rect x="289.28" y="163.69" width="5.40" height="5.40" fill="#c19632" stroke="#fff" stroke-width="0.5"/>
<rect x="318.98" y="177.15" width="5.40" height="5.40" fill="#c19632" stroke="#fff" stroke-width="0.5"/>
<rect x="350.67" y="175.96" width="5.40" height="5.40" fill="#c19632" stroke="#fff" stroke-width="0.5"/>
<rect x="302.15" y="128.44" width="5.40" height="5.40" fill="#c19632" stroke="#fff" stroke-width="0.5"/>
<polygon points="295.94,103.79 296.56,105.14 298.03,105.31 296.94,106.31 297.23,107.77 295.94,107.04 294.65,107.77 294.94,106.31 293.85,105.31 295.32,105.14" fill="#eb8032" stroke="#fff" stroke-width="0.5"/>
<polygon points="303.86,134.09 304.48,135.44 305.95,135.61 304.86,136.61 305.15,138.07 303.86,137.34 302.57,138.07 302.86,136.61 301.77,135.61 303.24,135.44" fill="#eb8032" stroke="#fff" stroke-width="0.5"/>
<polygon points="302.87,137.45 303.49,138.80 304.96,138.97 303.87,139.98 304.16,141.43 302.87,140.70 301.58,141.43 301.87,139.98 300.78,138.97 302.25,138.80" fill="#eb8032" stroke="#fff" stroke-width="0.5"/>
<polygon points="307.43,163.79 308.04,165.14 309.52,165.31 308.42,166.31 308.72,167.77 307.43,167.04 306.13,167.77 306.43,166.31 305.33,165.31 306.81,165.14" fill="#eb8032" stroke="#fff" stroke-width="0.5"/>
<polygon points="308.81,167.16 309.43,168.51 310.90,168.68 309.81,169.68 310.11,171.14 308.81,170.41 307.52,171.14 307.81,169.68 306.72,168.68 308.19,168.51" fill="#eb8032" stroke="#fff" stroke-width="0.5"/>
<polygon points="312.18,170.52 312.80,171.87 314.27,172.04 313.18,173.05 313.47,174.50 312.18,173.77 310.89,174.50 311.18,173.05 310.09,172.04 311.56,171.87" fill="#eb8032" stroke="#fff" stroke-width="0.5"/>
<polygon points="314.75,168.15 315.37,169.50 316.84,169.67 315.75,170.67 316.05,172.13 314.75,171.40 313.46,172.13 313.75,170.67 312.66,169.67 314.14,169.50" fill="#eb8032" stroke="#fff" stroke-width="0.5"/>
<polygon points="303.47,171.12 304.08,172.47 305.56,172.64 304.46,173.64 304.76,175.10 303.47,174.37 302.17,175.10 302.47,173.64 301.37,172.64 302.85,172.47" fill="#eb8032" stroke="#fff" stroke-width="0.5"/>
<polygon points="303.47,174.48 304.08,175.83 305.56,176.00 304.46,177.01 304.76,178.46 303.47,177.73 302.17,178.46 302.47,177.01 301.37,176.00 302.85,175.83" fill="#eb8032" stroke="#fff" stroke-width="0.5"/>
<polygon points="302.87,180.03 303.49,181.38 304.96,181.55 303.87,182.55 304.16,184.01 302.87,183.28 301.58,184.01 301.87,182.55 300.78,181.55 302.25,181.38" fill="#eb8032" stroke="#fff" stroke-width="0.5"/>
<polygon points="306.24,127.55 306.85,128.90 308.33,129.07 307.24,130.08 307.53,131.53 306.24,130.80 304.94,131.53 305.24,130.08 304.15,129.07 305.62,128.90" fill="#eb8032" stroke="#fff" stroke-width="0.5"/>
<polygon points="296.93,140.30 299.62,144.95 294.25,144.95" fill="#a0a131" stroke="#fff" stroke-width="0.5"/>
<polygon points="295.54,166.04 298.23,170.69 292.86,170.69" fill="#a0a131" stroke="#fff" stroke-width="0.5"/>
<polygon points="328.22,140.99 325.53,136.34 330.90,136.34" fill="#36abb0" stroke="#fff" stroke-width="0.5"/>
<polygon points="313.76,177.62 311.08,172.97 316.45,172.97" fill="#36abb0" stroke="#fff" stroke-width="0.5"/>
<polygon points="315.35,176.63 312.66,171.98 318.03,171.98" fill="#36abb0" stroke="#fff" stroke-width="0.5"/>
<polygon points="311.39,183.56 308.70,178.91 314.07,178.91" fill="#36abb0" stroke="#fff" stroke-width="0.5"/>
<polygon points="351.39,186.53 348.70,181.88 354.07,181.88" fill="#36abb0" stroke="#fff" stroke-width="0.5"/>
<polygon points="363.66,185.54 360.98,180.89 366.35,180.89" fill="#36abb0" stroke="#fff" stroke-width="0.5"/>
<polygon points="357.33,186.53 354.64,181.88 360.01,181.88" fill="#36abb0" stroke="#fff" stroke-width="0.5"/>
<polygon points="295.91,153.19 297.26,154.54 297.26,156.45 295.91,157.80 293.99,157.80 292.64,156.45 292.64,154.54 293.99,153.19" fill="#33b16f" stroke="#fff" stroke-width="0.5"/>
<polygon points="296.90,156.55 298.25,157.90 298.25,159.82 296.90,161.17 294.98,161.17 293.63,159.82 293.63,157.90 294.98,156.55" fill="#33b16f" stroke="#fff" stroke-width="0.5"/>
<polygon points="327.59,155.17 328.94,156.52 328.94,158.43 327.59,159.78 325.68,159.78 324.32,158.43 324.32,156.52 325.68,155.17" fill="#33b16f" stroke="#fff" stroke-width="0.5"/>
<polygon points="320.66,176.35 322.01,177.71 322.01,179.62 320.66,180.97 318.75,180.97 317.39,179.62 317.39,177.71 318.75,176.35" fill="#33b16f" stroke="#fff" stroke-width="0.5"/>
<polygon points="303.86,126.06 304.82,127.81 306.56,128.76 304.82,129.72 303.86,131.46 302.91,129.72 301.16,128.76 302.91,127.81" fill="#35ae97" stroke="#fff" stroke-width="0.5"/>
<polygon points="328.61,159.73 329.57,161.47 331.31,162.43 329.57,163.38 328.61,165.13 327.66,163.38 325.91,162.43 327.66,161.47" fill="#35ae97" stroke="#fff" stroke-width="0.5"/>
<polygon points="326.04,165.27 326.99,167.02 328.74,167.97 326.99,168.92 326.04,170.67 325.09,168.92 323.34,167.97 325.09,167.02" fill="#35ae97" stroke="#fff" stroke-width="0.5"/>
<path d="M327.89,167.97L333.29,167.97M330.59,165.27L330.59,170.67" stroke="#639df4" stroke-width="1.50" fill="none"/>
<circle cx="205.35" cy="182.38" r="2.70" fill="#f77189" stroke="#fff" stroke-width="0.5"/>
<circle cx="185.15" cy="190.30" r="2.70" fill="#f77189" stroke="#fff" stroke-width="0.5"/>
<circle cx="187.52" cy="190.89" r="2.70" fill="#f77189" stroke="#fff" stroke-width="0.5"/>
<circle cx="169.31" cy="209.70" r="2.70" fill="#f77189" stroke="#fff" stroke-width="0.5"/>
<circle cx="187.52" cy="208.71" r="2.70" fill="#f77189" stroke="#fff" stroke-width="0.5"/>
<circle cx="193.07" cy="205.74" r="2.70" fill="#f77189" stroke="#fff" stroke-width="0.5"/>
<circle cx="185.54" cy="252.28" r="2.70" fill="#f77189" stroke="#fff" stroke-width="0.5"/>
<polygon points="213.27,187.70 213.88,189.05 215.36,189.22 214.27,190.23 214.56,191.68 213.27,190.95 211.97,191.68 212.27,190.23 211.18,189.22 212.65,189.05" fill="#eb8032" stroke="#fff" stroke-width="0.5"/>
<polygon points="206.34,193.25 206.95,194.60 208.43,194.77 207.34,195.77 207.63,197.23 206.34,196.50 205.04,197.23 205.34,195.77 204.24,194.77 205.72,194.60" fill="#eb8032" stroke="#fff" stroke-width="0.5"/>
<polygon points="211.29,194.63 211.90,195.98 213.38,196.15 212.29,197.16 212.58,198.61 211.29,197.88 209.99,198.61 210.29,197.16 209.19,196.15 210.67,195.98" fill="#eb8032" stroke="#fff" stroke-width="0.5"/>
<polygon points="202.38,207.50 202.99,208.85 204.47,209.02 203.37,210.03 203.67,211.48 202.38,210.75 201.08,211.48 201.38,210.03 200.28,209.02 201.76,208.85" fill="#eb8032" stroke="#fff" stroke-width="0.5"/>
<polygon points="211.29,212.45 211.90,213.80 213.38,213.97 212.29,214.98 212.58,216.43 211.29,215.70 209.99,216.43 210.29,214.98 209.19,213.97 210.67,213.80" fill="#eb8032" stroke="#fff" stroke-width="0.5"/>
<polygon points="217.62,210.47 218.24,211.82 219.72,211.99 218.62,213.00 218.92,214.45 217.62,213.72 216.33,214.45 216.63,213.00 215.53,211.99 217.01,211.82" fill="#eb8032" stroke="#fff" stroke-width="0.5"/>
<polygon points="184.55,224.93 185.17,226.28 186.65,226.45 185.55,227.45 185.85,228.91 184.55,228.18 183.26,228.91 183.56,227.45 182.46,226.45 183.94,226.28" fill="#eb8032" stroke="#fff" stroke-width="0.5"/>
<polygon points="177.23,231.66 177.84,233.01 179.32,233.18 178.23,234.19 178.52,235.64 177.23,234.91 175.93,235.64 176.23,234.19 175.14,233.18 176.61,233.01" fill="#eb8032" stroke="#fff" stroke-width="0.5"/>
<polygon points="209.31,221.76 209.92,223.11 211.40,223.28 210.31,224.28 210.60,225.74 209.31,225.01 208.01,225.74 208.31,224.28 207.21,223.28 208.69,223.11" fill="#eb8032" stroke="#fff" stroke-width="0.5"/>
<polygon points="212.28,231.27 212.89,232.62 214.37,232.79 213.28,233.79 213.57,235.25 212.28,234.52 210.98,235.25 211.28,233.79 210.18,232.79 211.66,232.62" fill="#eb8032" stroke="#fff" stroke-width="0.5"/>
<polygon points="213.66,236.81 214.28,238.16 215.76,238.33 214.66,239.33 214.96,240.79 213.66,240.06 212.37,240.79 212.66,239.33 211.57,238.33 213.05,238.16" fill="#eb8032" stroke="#fff" stroke-width="0.5"/>
<polygon points="201.39,195.50 204.07,200.15 198.70,200.15" fill="#a0a131" stroke="#fff" stroke-width="0.5"/>
<polygon points="217.23,193.52 219.91,198.17 214.54,198.17" fill="#a0a131" stroke="#fff" stroke-width="0.5"/>
<polygon points="218.81,196.49 221.50,201.14 216.13,201.14" fill="#a0a131" stroke="#fff" stroke-width="0.5"/>
<polygon points="196.44,203.02 199.12,207.67 193.75,207.67" fill="#a0a131" stroke="#fff" stroke-width="0.5"/>
<polygon points="174.65,206.98 177.34,211.63 171.97,211.63" fill="#a0a131" stroke="#fff" stroke-width="0.5"/>
<polygon points="176.63,207.38 179.32,212.03 173.95,212.03" fill="#a0a131" stroke="#fff" stroke-width="0.5"/>
<polygon points="173.27,210.35 175.95,215.00 170.58,215.00" fill="#a0a131" stroke="#fff" stroke-width="0.5"/>
<polygon points="176.04,215.30 178.72,219.95 173.35,219.95" fill="#a0a131" stroke="#fff" stroke-width="0.5"/>
<polygon points="172.67,219.26 175.36,223.91 169.99,223.91" fill="#a0a131" stroke="#fff" stroke-width="0.5"/>
<polygon points="175.64,223.62 178.33,228.27 172.96,228.27" fill="#a0a131" stroke="#fff" stroke-width="0.5"/>
<polygon points="176.63,225.20 179.32,229.85 173.95,229.85" fill="#a0a131" stroke="#fff" stroke-width="0.5"/>
<polygon points="193.07,223.62 195.75,228.27 190.38,228.27" fill="#a0a131" stroke="#fff" stroke-width="0.5"/>
<polygon points="195.45,207.38 198.13,212.03 192.76,212.03" fill="#a0a131" stroke="#fff" stroke-width="0.5"/>
<polygon points="199.41,211.34 202.09,215.99 196.72,215.99" fill="#a0a131" stroke="#fff" stroke-width="0.5"/>
<polygon points="203.76,212.92 206.45,217.57 201.08,217.57" fill="#a0a131" stroke="#fff" stroke-width="0.5"/>
<polygon points="215.25,213.32 217.93,217.97 212.56,217.97" fill="#a0a131" stroke="#fff" stroke-width="0.5"/>
<polygon points="180.59,228.76 183.28,233.41 177.91,233.41" fill="#a0a131" stroke="#fff" stroke-width="0.5"/>
<polygon points="189.50,232.13 192.19,236.78 186.82,236.78" fill="#a0a131" stroke="#fff" stroke-width="0.5"/>
<polygon points="193.86,231.14 196.55,235.79 191.18,235.79" fill="#a0a131" stroke="#fff" stroke-width="0.5"/>
<polygon points="197.82,230.74 200.51,235.39 195.14,235.39" fill="#a0a131" stroke="#fff" stroke-width="0.5"/>
<polygon points="176.63,232.72 179.32,237.37 173.95,237.37" fill="#a0a131" stroke="#fff" stroke-width="0.5"/>
<polygon points="179.60,234.11 182.29,238.76 176.92,238.76" fill="#a0a131" stroke="#fff" stroke-width="0.5"/>
<polygon points="193.07,237.08 195.75,241.73 190.38,241.73" fill="#a0a131" stroke="#fff" stroke-width="0.5"/>
<polygon points="196.44,236.68 199.12,241.33 193.75,241.33" fill="#a0a131" stroke="#fff" stroke-width="0.5"/>
<polygon points="181.58,241.04 184.27,245.69 178.90,245.69" fill="#a0a131" stroke="#fff" stroke-width="0.5"/>
<polygon points="184.55,241.44 187.24,246.09 181.87,246.09" fill="#a0a131" stroke="#fff" stroke-width="0.5"/>
<polygon points="179.60,246.98 182.29,251.63 176.92,251.63" fill="#a0a131" stroke="#fff" stroke-width="0.5"/>
<polygon points="187.13,241.04 189.81,245.69 184.44,245.69" fill="#a0a131" stroke="#fff" stroke-width="0.5"/>
<polygon points="195.45,243.02 198.13,247.67 192.76,247.67" fill="#a0a131" stroke="#fff" stroke-width="0.5"/>
<polygon points="200.40,244.01 203.08,248.66 197.71,248.66" fill="#a0a131" stroke="#fff" stroke-width="0.5"/>
<polygon points="203.37,246.98 206.05,251.63 200.68,251.63" fill="#a0a131" stroke="#fff" stroke-width="0.5"/>
<polygon points="199.41,247.97 202.09,252.62 196.72,252.62" fill="#a0a131" stroke="#fff" stroke-width="0.5"/>
<polygon points="210.30,250.55 212.98,255.20 207.61,255.20" fill="#a0a131" stroke="#fff" stroke-width="0.5"/>
<polygon points="205.35,251.93 208.03,256.58 202.66,256.58" fill="#a0a131" stroke="#fff" stroke-width="0.5"/>
<polygon points="203.37,251.93 206.05,256.58 200.68,256.58" fill="#a0a131" stroke="#fff" stroke-width="0.5"/>
<polygon points="212.87,245.00 215.56,249.65 210.19,249.65" fill="#a0a131" stroke="#fff" stroke-width="0.5"/>
<polygon points="219.21,242.03 221.89,246.68 216.52,246.68" fill="#a0a131" stroke="#fff" stroke-width="0.5"/>
<polygon points="163.76,251.93 166.45,256.58 161.08,256.58" fill="#a0a131" stroke="#fff" stroke-width="0.5"/>
<polygon points="166.73,250.94 169.42,255.59 164.05,255.59" fill="#a0a131" stroke="#fff" stroke-width="0.5"/>
<polygon points="165.35,254.51 168.03,259.16 162.66,259.16" fill="#a0a131" stroke="#fff" stroke-width="0.5"/>
<polygon points="170.69,254.51 173.38,259.16 168.01,259.16" fill="#a0a131" stroke="#fff" stroke-width="0.5"/>
<polygon points="182.57,254.90 185.26,259.55 179.89,259.55" fill="#a0a131" stroke="#fff" stroke-width="0.5"/>
<polygon points="187.52,254.90 190.21,259.55 184.84,259.55" fill="#a0a131" stroke="#fff" stroke-width="0.5"/>
<polygon points="195.84,254.90 198.53,259.55 193.16,259.55" fill="#a0a131" stroke="#fff" stroke-width="0.5"/>
<polygon points="200.40,253.91 203.08,258.56 197.71,258.56" fill="#a0a131" stroke="#fff" stroke-width="0.5"/>
<polygon points="215.25,254.90 217.93,259.55 212.56,259.55" fill="#a0a131" stroke="#fff" stroke-width="0.5"/>
<polygon points="216.24,202.34 219.64,205.74 216.24,209.14 212.84,205.74" fill="#71ac31" stroke="#fff" stroke-width="0.5"/>
<polygon points="199.41,216.20 202.81,219.60 199.41,223.00 196.01,219.60" fill="#71ac31" stroke="#fff" stroke-width="0.5"/>
<polygon points="200.40,219.17 203.80,222.57 200.40,225.97 197.00,222.57" fill="#71ac31" stroke="#fff" stroke-width="0.5"/>
<polygon points="187.52,237.99 190.92,241.39 187.52,244.79 184.12,241.39" fill="#71ac31" stroke="#fff" stroke-width="0.5"/>
<polygon points="202.97,227.10 206.37,230.50 202.97,233.90 199.57,230.50" fill="#71ac31" stroke="#fff" stroke-width="0.5"/>
<rect x="191.76" y="211.36" width="5.40" height="5.40" fill="#c19632" stroke="#fff" stroke-width="0.5"/>
<rect x="214.53" y="218.88" width="5.40" height="5.40" fill="#c19632" stroke="#fff" stroke-width="0.5"/>
<rect x="204.23" y="224.82" width="5.40" height="5.40" fill="#c19632" stroke="#fff" stroke-width="0.5"/>
<rect x="160.67" y="239.68" width="5.40" height="5.40" fill="#c19632" stroke="#fff" stroke-width="0.5"/>
<rect x="188.79" y="244.63" width="5.40" height="5.40" fill="#c19632" stroke="#fff" stroke-width="0.5"/>
<polygon points="189.08,219.67 190.43,221.02 190.43,222.94 189.08,224.29 187.16,224.29 185.81,222.94 185.81,221.02 187.16,219.67" fill="#33b16f" stroke="#fff" stroke-width="0.5"/>
<path d="M207.60,227.80L211.80,232.00M207.60,232.00L211.80,227.80" stroke="#39a8cc" stroke-width="1.40" fill="none"/>
<polygon points="237.18,181.24 239.86,185.89 234.49,185.89" fill="#a0a131" stroke="#fff" stroke-width="0.5"/>
<polygon points="229.26,178.67 231.94,183.32 226.57,183.32" fill="#a0a131" stroke="#fff" stroke-width="0.5"/>
<polygon points="219.95,182.63 222.64,187.28 217.27,187.28" fill="#a0a131" stroke="#fff" stroke-width="0.5"/>
<polygon points="216.98,193.52 219.66,198.17 214.30,198.17" fill="#a0a131" stroke="#fff" stroke-width="0.5"/>
<polygon points="218.56,196.49 221.25,201.14 215.88,201.14" fill="#a0a131" stroke="#fff" stroke-width="0.5"/>
<polygon points="227.87,198.47 230.56,203.12 225.19,203.12" fill="#a0a131" stroke="#fff" stroke-width="0.5"/>
<polygon points="225.89,202.43 228.58,207.08 223.21,207.08" fill="#a0a131" stroke="#fff" stroke-width="0.5"/>
<polygon points="222.52,207.77 225.21,212.42 219.84,212.42" fill="#a0a131" stroke="#fff" stroke-width="0.5"/>
<polygon points="215.99,212.33 218.67,216.98 213.31,216.98" fill="#a0a131" stroke="#fff" stroke-width="0.5"/>
<polygon points="228.86,218.86 231.55,223.51 226.18,223.51" fill="#a0a131" stroke="#fff" stroke-width="0.5"/>
<polygon points="233.81,221.24 236.50,225.89 231.13,225.89" fill="#a0a131" stroke="#fff" stroke-width="0.5"/>
<polygon points="225.89,227.18 228.58,231.83 223.21,231.83" fill="#a0a131" stroke="#fff" stroke-width="0.5"/>
<polygon points="226.88,230.74 229.57,235.39 224.20,235.39" fill="#a0a131" stroke="#fff" stroke-width="0.5"/>
<polygon points="254.21,235.10 256.89,239.75 251.52,239.75" fill="#a0a131" stroke="#fff" stroke-width="0.5"/>
<polygon points="250.64,241.04 253.33,245.69 247.96,245.69" fill="#a0a131" stroke="#fff" stroke-width="0.5"/>
<polygon points="219.36,241.44 222.04,246.09 216.67,246.09" fill="#a0a131" stroke="#fff" stroke-width="0.5"/>
<polygon points="220.94,191.83 218.26,187.18 223.63,187.18" fill="#36abb0" stroke="#fff" stroke-width="0.5"/>
<polygon points="223.32,205.10 220.63,200.45 226.00,200.45" fill="#36abb0" stroke="#fff" stroke-width="0.5"/>
<polygon points="272.43,185.30 269.74,180.65 275.11,180.65" fill="#36abb0" stroke="#fff" stroke-width="0.5"/>
<polygon points="279.36,191.24 276.67,186.59 282.04,186.59" fill="#36abb0" stroke="#fff" stroke-width="0.5"/>
<polygon points="278.76,197.77 276.08,193.12 281.45,193.12" fill="#36abb0" stroke="#fff" stroke-width="0.5"/>
<polygon points="274.01,198.56 271.33,193.91 276.69,193.91" fill="#36abb0" stroke="#fff" stroke-width="0.5"/>
<polygon points="289.85,206.48 287.17,201.83 292.54,201.83" fill="#36abb0" stroke="#fff" stroke-width="0.5"/>
<polygon points="291.24,195.20 288.55,190.55 293.92,190.55" fill="#36abb0" stroke="#fff" stroke-width="0.5"/>
<polygon points="275.40,245.30 272.71,240.65 278.08,240.65" fill="#36abb0" stroke="#fff" stroke-width="0.5"/>
<polygon points="285.89,242.13 283.21,237.48 288.58,237.48" fill="#36abb0" stroke="#fff" stroke-width="0.5"/>
<polygon points="274.01,261.14 271.33,256.49 276.69,256.49" fill="#36abb0" stroke="#fff" stroke-width="0.5"/>
<circle cx="227.87" cy="190.89" r="2.70" fill="#f77189" stroke="#fff" stroke-width="0.5"/>
<circle cx="275.99" cy="195.84" r="2.70" fill="#f77189" stroke="#fff" stroke-width="0.5"/>
<circle cx="230.45" cy="252.28" r="2.70" fill="#f77189" stroke="#fff" stroke-width="0.5"/>
<circle cx="293.81" cy="217.62" r="2.70" fill="#f77189" stroke="#fff" stroke-width="0.5"/>
<circle cx="293.81" cy="244.36" r="2.70" fill="#f77189" stroke="#fff" stroke-width="0.5"/>
<circle cx="241.73" cy="259.21" r="2.70" fill="#f77189" stroke="#fff" stroke-width="0.5"/>
<rect x="250.91" y="180.86" width="5.40" height="5.40" fill="#c19632" stroke="#fff" stroke-width="0.5"/>
<rect x="279.23" y="180.86" width="5.40" height="5.40" fill="#c19632" stroke="#fff" stroke-width="0.5"/>
<rect x="271.31" y="187.20" width="5.40" height="5.40" fill="#c19632" stroke="#fff" stroke-width="0.5"/>
<rect x="246.95" y="189.18" width="5.40" height="5.40" fill="#c19632" stroke="#fff" stroke-width="0.5"/>
<rect x="240.02" y="199.48" width="5.40" height="5.40" fill="#c19632" stroke="#fff" stroke-width="0.5"/>
<rect x="247.94" y="206.01" width="5.40" height="5.40" fill="#c19632" stroke="#fff" stroke-width="0.5"/>
<rect x="215.86" y="218.49" width="5.40" height="5.40" fill="#c19632" stroke="#fff" stroke-width="0.5"/>
<rect x="285.17" y="216.51" width="5.40" height="5.40" fill="#c19632" stroke="#fff" stroke-width="0.5"/>
<rect x="227.15" y="240.67" width="5.40" height="5.40" fill="#c19632" stroke="#fff" stroke-width="0.5"/>
<rect x="291.11" y="234.73" width="5.40" height="5.40" fill="#c19632" stroke="#fff" stroke-width="0.5"/>
<polygon points="224.90,183.34 225.52,184.70 226.99,184.86 225.90,185.87 226.19,187.32 224.90,186.59 223.61,187.32 223.90,185.87 222.81,184.86 224.28,184.70" fill="#eb8032" stroke="#fff" stroke-width="0.5"/>
<polygon points="231.83,183.34 232.45,184.70 233.92,184.86 232.83,185.87 233.12,187.32 231.83,186.59 230.54,187.32 230.83,185.87 229.74,184.86 231.21,184.70" fill="#eb8032" stroke="#fff" stroke-width="0.5"/>
<polygon points="250.64,180.18 251.26,181.53 252.74,181.70 251.64,182.70 251.94,184.16 250.64,183.43 249.35,184.16 249.64,182.70 248.55,181.70 250.03,181.53" fill="#eb8032" stroke="#fff" stroke-width="0.5"/>
<polygon points="260.54,182.16 261.16,183.51 262.64,183.68 261.54,184.68 261.84,186.14 260.54,185.41 259.25,186.14 259.55,184.68 258.45,183.68 259.93,183.51" fill="#eb8032" stroke="#fff" stroke-width="0.5"/>
<polygon points="265.50,180.77 266.11,182.12 267.59,182.29 266.49,183.29 266.79,184.75 265.50,184.02 264.20,184.75 264.50,183.29 263.40,182.29 264.88,182.12" fill="#eb8032" stroke="#fff" stroke-width="0.5"/>
<polygon points="269.46,181.36 270.07,182.71 271.55,182.88 270.45,183.89 270.75,185.34 269.46,184.61 268.16,185.34 268.46,183.89 267.36,182.88 268.84,182.71" fill="#eb8032" stroke="#fff" stroke-width="0.5"/>
<polygon points="265.50,185.32 266.11,186.68 267.59,186.84 266.49,187.85 266.79,189.30 265.50,188.57 264.20,189.30 264.50,187.85 263.40,186.84 264.88,186.68" fill="#eb8032" stroke="#fff" stroke-width="0.5"/>
<polygon points="260.54,188.69 261.16,190.04 262.64,190.21 261.54,191.22 261.84,192.67 260.54,191.94 259.25,192.67 259.55,191.22 258.45,190.21 259.93,190.04" fill="#eb8032" stroke="#fff" stroke-width="0.5"/>
<polygon points="268.47,184.73 269.08,186.08 270.56,186.25 269.46,187.26 269.76,188.71 268.47,187.98 267.17,188.71 267.47,187.26 266.37,186.25 267.85,186.08" fill="#eb8032" stroke="#fff" stroke-width="0.5"/>
<polygon points="254.60,185.72 255.22,187.07 256.70,187.24 255.60,188.25 255.90,189.70 254.60,188.97 253.31,189.70 253.61,188.25 252.51,187.24 253.99,187.07" fill="#eb8032" stroke="#fff" stroke-width="0.5"/>
<polygon points="241.73,188.10 242.35,189.45 243.82,189.62 242.73,190.62 243.03,192.08 241.73,191.35 240.44,192.08 240.73,190.62 239.64,189.62 241.12,189.45" fill="#eb8032" stroke="#fff" stroke-width="0.5"/>
<polygon points="250.25,193.25 250.86,194.60 252.34,194.77 251.25,195.77 251.54,197.23 250.25,196.50 248.95,197.23 249.25,195.77 248.16,194.77 249.63,194.60" fill="#eb8032" stroke="#fff" stroke-width="0.5"/>
<polygon points="251.63,196.61 252.25,197.96 253.73,198.13 252.63,199.14 252.93,200.59 251.63,199.86 250.34,200.59 250.64,199.14 249.54,198.13 251.02,197.96" fill="#eb8032" stroke="#fff" stroke-width="0.5"/>
<polygon points="256.19,196.61 256.81,197.96 258.28,198.13 257.19,199.14 257.48,200.59 256.19,199.86 254.89,200.59 255.19,199.14 254.10,198.13 255.57,197.96" fill="#eb8032" stroke="#fff" stroke-width="0.5"/>
<polygon points="248.66,197.60 249.28,198.95 250.76,199.12 249.66,200.13 249.96,201.58 248.66,200.85 247.37,201.58 247.66,200.13 246.57,199.12 248.05,198.95" fill="#eb8032" stroke="#fff" stroke-width="0.5"/>
<polygon points="264.11,192.06 264.73,193.41 266.20,193.58 265.11,194.58 265.40,196.04 264.11,195.31 262.82,196.04 263.11,194.58 262.02,193.58 263.49,193.41" fill="#eb8032" stroke="#fff" stroke-width="0.5"/>
<polygon points="264.50,196.61 265.12,197.96 266.60,198.13 265.50,199.14 265.80,200.59 264.50,199.86 263.21,200.59 263.51,199.14 262.41,198.13 263.89,197.96" fill="#eb8032" stroke="#fff" stroke-width="0.5"/>
<polygon points="268.86,194.63 269.48,195.98 270.95,196.15 269.86,197.16 270.15,198.61 268.86,197.88 267.57,198.61 267.86,197.16 266.77,196.15 268.24,195.98" fill="#eb8032" stroke="#fff" stroke-width="0.5"/>
<polygon points="284.70,194.63 285.32,195.98 286.80,196.15 285.70,197.16 286.00,198.61 284.70,197.88 283.41,198.61 283.70,197.16 282.61,196.15 284.09,195.98" fill="#eb8032" stroke="#fff" stroke-width="0.5"/>
<polygon points="286.68,185.32 287.30,186.68 288.78,186.84 287.68,187.85 287.98,189.30 286.68,188.57 285.39,189.30 285.68,187.85 284.59,186.84 286.07,186.68" fill="#eb8032" stroke="#fff" stroke-width="0.5"/>
<polygon points="289.85,184.73 290.47,186.08 291.94,186.25 290.85,187.26 291.14,188.71 289.85,187.98 288.56,188.71 288.85,187.26 287.76,186.25 289.23,186.08" fill="#eb8032" stroke="#fff" stroke-width="0.5"/>
<polygon points="293.22,192.65 293.83,194.00 295.31,194.17 294.22,195.18 294.51,196.63 293.22,195.90 291.92,196.63 292.22,195.18 291.13,194.17 292.60,194.00" fill="#eb8032" stroke="#fff" stroke-width="0.5"/>
<polygon points="234.80,202.55 235.42,203.90 236.89,204.07 235.80,205.08 236.10,206.53 234.80,205.80 233.51,206.53 233.80,205.08 232.71,204.07 234.18,203.90" fill="#eb8032" stroke="#fff" stroke-width="0.5"/>
<polygon points="277.38,203.15 277.99,204.50 279.47,204.67 278.37,205.67 278.67,207.13 277.38,206.40 276.08,207.13 276.38,205.67 275.28,204.67 276.76,204.50" fill="#eb8032" stroke="#fff" stroke-width="0.5"/>
<polygon points="278.76,205.52 279.38,206.87 280.85,207.04 279.76,208.05 280.06,209.50 278.76,208.77 277.47,209.50 277.76,208.05 276.67,207.04 278.15,206.87" fill="#eb8032" stroke="#fff" stroke-width="0.5"/>
<polygon points="281.34,206.51 281.95,207.86 283.43,208.03 282.34,209.04 282.63,210.49 281.34,209.76 280.04,210.49 280.34,209.04 279.24,208.03 280.72,207.86" fill="#eb8032" stroke="#fff" stroke-width="0.5"/>
<polygon points="255.59,204.53 256.21,205.88 257.69,206.05 256.59,207.06 256.89,208.51 255.59,207.78 254.30,208.51 254.60,207.06 253.50,206.05 254.98,205.88" fill="#eb8032" stroke="#fff" stroke-width="0.5"/>
<polygon points="257.57,205.13 258.19,206.48 259.67,206.65 258.57,207.65 258.87,209.11 257.57,208.38 256.28,209.11 256.58,207.65 255.48,206.65 256.96,206.48" fill="#eb8032" stroke="#fff" stroke-width="0.5"/>
<polygon points="270.45,213.05 271.06,214.40 272.54,214.57 271.44,215.57 271.74,217.03 270.45,216.30 269.15,217.03 269.45,215.57 268.35,214.57 269.83,214.40" fill="#eb8032" stroke="#fff" stroke-width="0.5"/>
<polygon points="283.32,217.40 283.93,218.75 285.41,218.92 284.32,219.93 284.61,221.38 283.32,220.65 282.02,221.38 282.32,219.93 281.22,218.92 282.70,218.75" fill="#eb8032" stroke="#fff" stroke-width="0.5"/>
<polygon points="284.31,219.78 284.92,221.13 286.40,221.30 285.31,222.30 285.60,223.76 284.31,223.03 283.01,223.76 283.31,222.30 282.21,221.30 283.69,221.13" fill="#eb8032" stroke="#fff" stroke-width="0.5"/>
<polygon points="282.72,223.34 283.34,224.70 284.82,224.86 283.72,225.87 284.02,227.32 282.72,226.59 281.43,227.32 281.72,225.87 280.63,224.86 282.11,224.70" fill="#eb8032" stroke="#fff" stroke-width="0.5"/>
<polygon points="272.43,224.33 273.04,225.69 274.52,225.85 273.42,226.86 273.72,228.31 272.43,227.58 271.13,228.31 271.43,226.86 270.33,225.85 271.81,225.69" fill="#eb8032" stroke="#fff" stroke-width="0.5"/>
<polygon points="277.97,230.87 278.59,232.22 280.06,232.39 278.97,233.39 279.26,234.85 277.97,234.12 276.68,234.85 276.97,233.39 275.88,232.39 277.35,232.22" fill="#eb8032" stroke="#fff" stroke-width="0.5"/>
<polygon points="293.22,223.34 293.83,224.70 295.31,224.86 294.22,225.87 294.51,227.32 293.22,226.59 291.92,227.32 292.22,225.87 291.13,224.86 292.60,224.70" fill="#eb8032" stroke="#fff" stroke-width="0.5"/>
<polygon points="239.75,217.01 240.37,218.36 241.84,218.53 240.75,219.53 241.05,220.99 239.75,220.26 238.46,220.99 238.75,219.53 237.66,218.53 239.14,218.36" fill="#eb8032" stroke="#fff" stroke-width="0.5"/>
<polygon points="242.72,222.35 243.34,223.70 244.82,223.87 243.72,224.88 244.02,226.33 242.72,225.60 241.43,226.33 241.72,224.88 240.63,223.87 242.11,223.70" fill="#eb8032" stroke="#fff" stroke-width="0.5"/>
<polygon points="229.26,215.03 229.87,216.38 231.35,216.55 230.26,217.55 230.55,219.01 229.26,218.28 227.96,219.01 228.26,217.55 227.17,216.55 228.64,216.38" fill="#eb8032" stroke="#fff" stroke-width="0.5"/>
<polygon points="218.96,208.49 219.58,209.84 221.05,210.01 219.96,211.02 220.25,212.47 218.96,211.74 217.67,212.47 217.96,211.02 216.87,210.01 218.34,209.84" fill="#eb8032" stroke="#fff" stroke-width="0.5"/>
<polygon points="217.97,213.44 218.59,214.79 220.06,214.96 218.97,215.97 219.26,217.42 217.97,216.69 216.68,217.42 216.97,215.97 215.88,214.96 217.35,214.79" fill="#eb8032" stroke="#fff" stroke-width="0.5"/>
<polygon points="272.43,242.16 273.04,243.51 274.52,243.68 273.42,244.68 273.72,246.14 272.43,245.41 271.13,246.14 271.43,244.68 270.33,243.68 271.81,243.51" fill="#eb8032" stroke="#fff" stroke-width="0.5"/>
<polygon points="269.46,244.73 270.07,246.08 271.55,246.25 270.45,247.26 270.75,248.71 269.46,247.98 268.16,248.71 268.46,247.26 267.36,246.25 268.84,246.08" fill="#eb8032" stroke="#fff" stroke-width="0.5"/>
<polygon points="291.24,235.23 291.85,236.58 293.33,236.75 292.24,237.75 292.53,239.21 291.24,238.48 289.94,239.21 290.24,237.75 289.15,236.75 290.62,236.58" fill="#eb8032" stroke="#fff" stroke-width="0.5"/>
<polygon points="216.58,201.95 219.98,205.35 216.58,208.75 213.18,205.35" fill="#71ac31" stroke="#fff" stroke-width="0.5"/>
<rect x="231.41" y="206.91" width="4.80" height="4.80" fill="#f668be" stroke="#fff" stroke-width="0.5"/>
<polygon points="293.18,197.10 294.54,198.45 294.54,200.36 293.18,201.72 291.27,201.72 289.92,200.36 289.92,198.45 291.27,197.10" fill="#33b16f" stroke="#fff" stroke-width="0.5"/>
<polygon points="257.94,178.68 259.29,180.03 259.29,181.95 257.94,183.30 256.02,183.30 254.67,181.95 254.67,180.03 256.02,178.68" fill="#33b16f" stroke="#fff" stroke-width="0.5"/>
<polygon points="227.44,245.02 228.79,246.37 228.79,248.28 227.44,249.64 225.53,249.64 224.18,248.28 224.18,246.37 225.53,245.02" fill="#33b16f" stroke="#fff" stroke-width="0.5"/>
<path d="M280.62,243.76L286.02,243.76M283.32,241.06L283.32,246.46" stroke="#639df4" stroke-width="1.50" fill="none"/>
<path d="M281.22,180.28L285.42,184.48M281.22,184.48L285.42,180.28" stroke="#39a8cc" stroke-width="1.40" fill="none"/>
<polygon points="311.78,184.70 309.10,180.05 314.47,180.05" fill="#36abb0" stroke="#fff" stroke-width="0.5"/>
<polygon points="302.28,196.58 299.59,191.93 304.96,191.93" fill="#36abb0" stroke="#fff" stroke-width="0.5"/>
<polygon points="298.32,201.14 295.63,196.49 301.00,196.49" fill="#36abb0" stroke="#fff" stroke-width="0.5"/>
<polygon points="309.41,198.17 306.72,193.52 312.09,193.52" fill="#36abb0" stroke="#fff" stroke-width="0.5"/>
<polygon points="311.39,197.18 308.70,192.53 314.07,192.53" fill="#36abb0" stroke="#fff" stroke-width="0.5"/>
<polygon points="313.37,200.15 310.68,195.50 316.05,195.50" fill="#36abb0" stroke="#fff" stroke-width="0.5"/>
<polygon points="309.80,202.13 307.12,197.48 312.49,197.48" fill="#36abb0" stroke="#fff" stroke-width="0.5"/>
<polygon points="307.43,206.09 304.74,201.44 310.11,201.44" fill="#36abb0" stroke="#fff" stroke-width="0.5"/>
<polygon points="313.37,207.08 310.68,202.43 316.05,202.43" fill="#36abb0" stroke="#fff" stroke-width="0.5"/>
<polygon points="315.35,213.61 312.66,208.96 318.03,208.96" fill="#36abb0" stroke="#fff" stroke-width="0.5"/>
<polygon points="307.43,212.03 304.74,207.38 310.11,207.38" fill="#36abb0" stroke="#fff" stroke-width="0.5"/>
<polygon points="323.27,198.56 320.58,193.91 325.95,193.91" fill="#36abb0" stroke="#fff" stroke-width="0.5"/>
<polygon points="324.06,211.63 321.37,206.98 326.74,206.98" fill="#36abb0" stroke="#fff" stroke-width="0.5"/>
<polygon points="324.06,216.38 321.37,211.73 326.74,211.73" fill="#36abb0" stroke="#fff" stroke-width="0.5"/>
<polygon points="341.09,196.19 338.40,191.54 343.77,191.54" fill="#36abb0" stroke="#fff" stroke-width="0.5"/>
<polygon points="347.03,212.03 344.35,207.38 349.71,207.38" fill="#36abb0" stroke="#fff" stroke-width="0.5"/>
<polygon points="298.32,218.36 295.63,213.71 301.00,213.71" fill="#36abb0" stroke="#fff" stroke-width="0.5"/>
<polygon points="297.52,229.85 294.84,225.20 300.21,225.20" fill="#36abb0" stroke="#fff" stroke-width="0.5"/>
<polygon points="303.47,236.19 300.78,231.54 306.15,231.54" fill="#36abb0" stroke="#fff" stroke-width="0.5"/>
<polygon points="306.83,237.37 304.15,232.72 309.52,232.72" fill="#36abb0" stroke="#fff" stroke-width="0.5"/>
<polygon points="313.76,244.11 311.08,239.46 316.45,239.46" fill="#36abb0" stroke="#fff" stroke-width="0.5"/>
<polygon points="316.73,247.67 314.05,243.02 319.42,243.02" fill="#36abb0" stroke="#fff" stroke-width="0.5"/>
<polygon points="314.75,252.62 312.07,247.97 317.44,247.97" fill="#36abb0" stroke="#fff" stroke-width="0.5"/>
<polygon points="314.75,255.59 312.07,250.94 317.44,250.94" fill="#36abb0" stroke="#fff" stroke-width="0.5"/>
<polygon points="334.55,246.68 331.87,242.03 337.24,242.03" fill="#36abb0" stroke="#fff" stroke-width="0.5"/>
<polygon points="350.40,243.71 347.71,239.06 353.08,239.06" fill="#36abb0" stroke="#fff" stroke-width="0.5"/>
<polygon points="359.31,239.75 356.62,235.10 361.99,235.10" fill="#36abb0" stroke="#fff" stroke-width="0.5"/>
<polygon points="360.30,238.76 357.61,234.11 362.98,234.11" fill="#36abb0" stroke="#fff" stroke-width="0.5"/>
<polygon points="343.86,259.16 341.18,254.51 346.55,254.51" fill="#36abb0" stroke="#fff" stroke-width="0.5"/>
<polygon points="349.01,256.58 346.33,251.93 351.69,251.93" fill="#36abb0" stroke="#fff" stroke-width="0.5"/>
<polygon points="350.99,186.68 348.31,182.03 353.67,182.03" fill="#36abb0" stroke="#fff" stroke-width="0.5"/>
<polygon points="358.32,188.27 355.63,183.62 361.00,183.62" fill="#36abb0" stroke="#fff" stroke-width="0.5"/>
<polygon points="363.66,185.30 360.98,180.65 366.35,180.65" fill="#36abb0" stroke="#fff" stroke-width="0.5"/>
<polygon points="365.25,189.85 362.56,185.20 367.93,185.20" fill="#36abb0" stroke="#fff" stroke-width="0.5"/>
<polygon points="368.22,190.64 365.53,185.99 370.90,185.99" fill="#36abb0" stroke="#fff" stroke-width="0.5"/>
<polygon points="360.30,197.18 357.61,192.53 362.98,192.53" fill="#36abb0" stroke="#fff" stroke-width="0.5"/>
<polygon points="366.24,204.11 363.55,199.46 368.92,199.46" fill="#36abb0" stroke="#fff" stroke-width="0.5"/>
<polygon points="368.81,195.20 366.13,190.55 371.50,190.55" fill="#36abb0" stroke="#fff" stroke-width="0.5"/>
<polygon points="362.28,215.99 359.59,211.34 364.96,211.34" fill="#36abb0" stroke="#fff" stroke-width="0.5"/>
<polygon points="355.35,219.55 352.66,214.90 358.03,214.90" fill="#36abb0" stroke="#fff" stroke-width="0.5"/>
<polygon points="356.34,226.29 353.65,221.64 359.02,221.64" fill="#36abb0" stroke="#fff" stroke-width="0.5"/>
<polygon points="358.91,224.90 356.23,220.25 361.60,220.25" fill="#36abb0" stroke="#fff" stroke-width="0.5"/>
<polygon points="363.27,223.51 360.58,218.86 365.95,218.86" fill="#36abb0" stroke="#fff" stroke-width="0.5"/>
<polygon points="366.24,224.90 363.55,220.25 368.92,220.25" fill="#36abb0" stroke="#fff" stroke-width="0.5"/>
<polygon points="291.58,194.60 288.90,189.95 294.27,189.95" fill="#36abb0" stroke="#fff" stroke-width="0.5"/>
<polygon points="290.00,207.08 287.32,202.43 292.68,202.43" fill="#36abb0" stroke="#fff" stroke-width="0.5"/>
<rect x="319.38" y="178.29" width="5.40" height="5.40" fill="#c19632" stroke="#fff" stroke-width="0.5"/>
<rect x="355.02" y="188.79" width="5.40" height="5.40" fill="#c19632" stroke="#fff" stroke-width="0.5"/>
<rect x="365.52" y="193.14" width="5.40" height="5.40" fill="#c19632" stroke="#fff" stroke-width="0.5"/>
<rect x="334.82" y="235.12" width="5.40" height="5.40" fill="#c19632" stroke="#fff" stroke-width="0.5"/>
<rect x="292.25" y="234.73" width="5.40" height="5.40" fill="#c19632" stroke="#fff" stroke-width="0.5"/>
<rect x="298.19" y="232.35" width="5.40" height="5.40" fill="#c19632" stroke="#fff" stroke-width="0.5"/>
<rect x="304.13" y="240.67" width="5.40" height="5.40" fill="#c19632" stroke="#fff" stroke-width="0.5"/>
<rect x="318.98" y="252.15" width="5.40" height="5.40" fill="#c19632" stroke="#fff" stroke-width="0.5"/>
<rect x="334.82" y="253.54" width="5.40" height="5.40" fill="#c19632" stroke="#fff" stroke-width="0.5"/>
<rect x="350.27" y="181.66" width="5.40" height="5.40" fill="#c19632" stroke="#fff" stroke-width="0.5"/>
<circle cx="315.35" cy="190.30" r="2.70" fill="#f77189" stroke="#fff" stroke-width="0.5"/>
<circle cx="294.36" cy="217.62" r="2.70" fill="#f77189" stroke="#fff" stroke-width="0.5"/>
<circle cx="294.36" cy="244.95" r="2.70" fill="#f77189" stroke="#fff" stroke-width="0.5"/>
<circle cx="298.32" cy="249.70" r="2.70" fill="#f77189" stroke="#fff" stroke-width="0.5"/>
<polygon points="303.47,180.18 304.08,181.53 305.56,181.70 304.46,182.70 304.76,184.16 303.47,183.43 302.17,184.16 302.47,182.70 301.37,181.70 302.85,181.53" fill="#eb8032" stroke="#fff" stroke-width="0.5"/>
<polygon points="298.91,186.71 299.53,188.06 301.00,188.23 299.91,189.24 300.20,190.69 298.91,189.96 297.62,190.69 297.91,189.24 296.82,188.23 298.29,188.06" fill="#eb8032" stroke="#fff" stroke-width="0.5"/>
<polygon points="293.56,189.68 294.18,191.03 295.66,191.20 294.56,192.21 294.86,193.66 293.56,192.93 292.27,193.66 292.57,192.21 291.47,191.20 292.95,191.03" fill="#eb8032" stroke="#fff" stroke-width="0.5"/>
<polygon points="291.98,193.25 292.60,194.60 294.07,194.77 292.98,195.77 293.27,197.23 291.98,196.50 290.69,197.23 290.98,195.77 289.89,194.77 291.36,194.60" fill="#eb8032" stroke="#fff" stroke-width="0.5"/>
<polygon points="303.86,203.54 304.48,204.89 305.95,205.06 304.86,206.07 305.15,207.52 303.86,206.79 302.57,207.52 302.86,206.07 301.77,205.06 303.24,204.89" fill="#eb8032" stroke="#fff" stroke-width="0.5"/>
<polygon points="305.45,205.92 306.06,207.27 307.54,207.44 306.44,208.44 306.74,209.90 305.45,209.17 304.15,209.90 304.45,208.44 303.35,207.44 304.83,207.27" fill="#eb8032" stroke="#fff" stroke-width="0.5"/>
<polygon points="308.81,210.47 309.43,211.82 310.90,211.99 309.81,213.00 310.11,214.45 308.81,213.72 307.52,214.45 307.81,213.00 306.72,211.99 308.19,211.82" fill="#eb8032" stroke="#fff" stroke-width="0.5"/>
<polygon points="312.18,209.09 312.80,210.44 314.27,210.61 313.18,211.61 313.47,213.07 312.18,212.34 310.89,213.07 311.18,211.61 310.09,210.61 311.56,210.44" fill="#eb8032" stroke="#fff" stroke-width="0.5"/>
<polygon points="319.31,203.54 319.92,204.89 321.40,205.06 320.31,206.07 320.60,207.52 319.31,206.79 318.01,207.52 318.31,206.07 317.21,205.06 318.69,204.89" fill="#eb8032" stroke="#fff" stroke-width="0.5"/>
<polygon points="319.31,209.09 319.92,210.44 321.40,210.61 320.31,211.61 320.60,213.07 319.31,212.34 318.01,213.07 318.31,211.61 317.21,210.61 318.69,210.44" fill="#eb8032" stroke="#fff" stroke-width="0.5"/>
<polygon points="292.97,211.46 293.59,212.81 295.06,212.98 293.97,213.99 294.26,215.44 292.97,214.71 291.68,215.44 291.97,213.99 290.88,212.98 292.35,212.81" fill="#eb8032" stroke="#fff" stroke-width="0.5"/>
<polygon points="307.82,216.41 308.44,217.76 309.91,217.93 308.82,218.94 309.11,220.39 307.82,219.66 306.53,220.39 306.82,218.94 305.73,217.93 307.20,217.76" fill="#eb8032" stroke="#fff" stroke-width="0.5"/>
<polygon points="307.43,219.38 308.04,220.73 309.52,220.90 308.42,221.91 308.72,223.36 307.43,222.63 306.13,223.36 306.43,221.91 305.33,220.90 306.81,220.73" fill="#eb8032" stroke="#fff" stroke-width="0.5"/>
<polygon points="292.97,223.74 293.59,225.09 295.06,225.26 293.97,226.27 294.26,227.72 292.97,226.99 291.68,227.72 291.97,226.27 290.88,225.26 292.35,225.09" fill="#eb8032" stroke="#fff" stroke-width="0.5"/>
<polygon points="299.90,230.87 300.52,232.22 301.99,232.39 300.90,233.39 301.19,234.85 299.90,234.12 298.61,234.85 298.90,233.39 297.81,232.39 299.28,232.22" fill="#eb8032" stroke="#fff" stroke-width="0.5"/>
<polygon points="298.32,236.81 298.93,238.16 300.41,238.33 299.32,239.33 299.61,240.79 298.32,240.06 297.02,240.79 297.32,239.33 296.22,238.33 297.70,238.16" fill="#eb8032" stroke="#fff" stroke-width="0.5"/>
<polygon points="305.45,235.23 306.06,236.58 307.54,236.75 306.44,237.75 306.74,239.21 305.45,238.48 304.15,239.21 304.45,237.75 303.35,236.75 304.83,236.58" fill="#eb8032" stroke="#fff" stroke-width="0.5"/>
<polygon points="310.20,248.10 310.82,249.45 312.29,249.62 311.20,250.62 311.49,252.08 310.20,251.35 308.90,252.08 309.20,250.62 308.11,249.62 309.58,249.45" fill="#eb8032" stroke="#fff" stroke-width="0.5"/>
<polygon points="292.94,197.49 294.29,198.85 294.29,200.76 292.94,202.11 291.02,202.11 289.67,200.76 289.67,198.85 291.02,197.49" fill="#33b16f" stroke="#fff" stroke-width="0.5"/>
<polygon points="315.12,215.31 316.47,216.67 316.47,218.58 315.12,219.93 313.20,219.93 311.85,218.58 311.85,216.67 313.20,215.31" fill="#33b16f" stroke="#fff" stroke-width="0.5"/>
<polygon points="310.76,229.18 312.11,230.53 312.11,232.44 310.76,233.79 308.85,233.79 307.49,232.44 307.49,230.53 308.85,229.18" fill="#33b16f" stroke="#fff" stroke-width="0.5"/>
<polygon points="319.67,238.68 321.02,240.03 321.02,241.95 319.67,243.30 317.76,243.30 316.40,241.95 316.40,240.03 317.76,238.68" fill="#33b16f" stroke="#fff" stroke-width="0.5"/>
<polygon points="298.91,252.55 301.48,254.41 300.50,257.43 297.32,257.43 296.34,254.41" fill="#b486f4" stroke="#fff" stroke-width="0.5"/>
<rect x="351.16" y="176.01" width="5.40" height="5.40" fill="#c19632" stroke="#fff" stroke-width="0.5"/>
<rect x="350.30" y="181.56" width="5.40" height="5.40" fill="#c19632" stroke="#fff" stroke-width="0.5"/>
<rect x="355.15" y="188.49" width="5.40" height="5.40" fill="#c19632" stroke="#fff" stroke-width="0.5"/>
<rect x="365.02" y="193.34" width="5.40" height="5.40" fill="#c19632" stroke="#fff" stroke-width="0.5"/>
<polygon points="350.74,186.58 348.06,181.93 353.43,181.93" fill="#36abb0" stroke="#fff" stroke-width="0.5"/>
<polygon points="357.67,187.97 354.99,183.32 360.36,183.32" fill="#36abb0" stroke="#fff" stroke-width="0.5"/>
<polygon points="363.91,185.20 361.23,180.55 366.60,180.55" fill="#36abb0" stroke="#fff" stroke-width="0.5"/>
<polygon points="365.13,189.70 362.44,185.05 367.81,185.05" fill="#36abb0" stroke="#fff" stroke-width="0.5"/>
<polygon points="369.46,190.40 366.77,185.75 372.14,185.75" fill="#36abb0" stroke="#fff" stroke-width="0.5"/>
<polygon points="373.27,187.97 370.59,183.32 375.95,183.32" fill="#36abb0" stroke="#fff" stroke-width="0.5"/>
<polygon points="373.79,192.13 371.10,187.48 376.47,187.48" fill="#36abb0" stroke="#fff" stroke-width="0.5"/>
<polygon points="369.80,194.38 367.12,189.73 372.49,189.73" fill="#36abb0" stroke="#fff" stroke-width="0.5"/>
<polygon points="361.14,197.85 358.46,193.20 363.82,193.20" fill="#36abb0" stroke="#fff" stroke-width="0.5"/>
<polygon points="370.84,198.37 368.16,193.72 373.53,193.72" fill="#36abb0" stroke="#fff" stroke-width="0.5"/>
<polygon points="374.66,198.37 371.97,193.72 377.34,193.72" fill="#36abb0" stroke="#fff" stroke-width="0.5"/>
<polygon points="372.58,201.83 369.89,197.18 375.26,197.18" fill="#36abb0" stroke="#fff" stroke-width="0.5"/>
<polygon points="370.32,201.31 367.64,196.66 373.01,196.66" fill="#36abb0" stroke="#fff" stroke-width="0.5"/>
<polygon points="366.86,203.91 364.17,199.26 369.54,199.26" fill="#36abb0" stroke="#fff" stroke-width="0.5"/>
<polygon points="379.51,201.83 376.82,197.18 382.19,197.18" fill="#36abb0" stroke="#fff" stroke-width="0.5"/>
<polygon points="381.59,196.98 378.90,192.33 384.27,192.33" fill="#36abb0" stroke="#fff" stroke-width="0.5"/>
<polygon points="384.19,196.63 381.50,191.98 386.87,191.98" fill="#36abb0" stroke="#fff" stroke-width="0.5"/>
<polygon points="382.97,199.06 380.29,194.41 385.66,194.41" fill="#36abb0" stroke="#fff" stroke-width="0.5"/>
<polygon points="385.05,203.05 382.37,198.40 387.74,198.40" fill="#36abb0" stroke="#fff" stroke-width="0.5"/>
<polygon points="384.19,204.78 381.50,200.13 386.87,200.13" fill="#36abb0" stroke="#fff" stroke-width="0.5"/>
<polygon points="371.19,209.46 368.51,204.81 373.88,204.81" fill="#36abb0" stroke="#fff" stroke-width="0.5"/>
<polygon points="374.31,210.84 371.62,206.19 376.99,206.19" fill="#36abb0" stroke="#fff" stroke-width="0.5"/>
<polygon points="376.74,214.31 374.05,209.66 379.42,209.66" fill="#36abb0" stroke="#fff" stroke-width="0.5"/>
<polygon points="362.18,216.04 359.50,211.39 364.86,211.39" fill="#36abb0" stroke="#fff" stroke-width="0.5"/>
<polygon points="355.60,219.51 352.91,214.86 358.28,214.86" fill="#36abb0" stroke="#fff" stroke-width="0.5"/>
<polygon points="372.06,218.12 369.37,213.47 374.74,213.47" fill="#36abb0" stroke="#fff" stroke-width="0.5"/>
<polygon points="369.46,220.37 366.77,215.72 372.14,215.72" fill="#36abb0" stroke="#fff" stroke-width="0.5"/>
<polygon points="362.53,222.97 359.84,218.32 365.21,218.32" fill="#36abb0" stroke="#fff" stroke-width="0.5"/>
<polygon points="365.99,223.84 363.31,219.19 368.68,219.19" fill="#36abb0" stroke="#fff" stroke-width="0.5"/>
<polygon points="359.06,225.05 356.38,220.40 361.75,220.40" fill="#36abb0" stroke="#fff" stroke-width="0.5"/>
<polygon points="355.94,226.44 353.26,221.79 358.63,221.79" fill="#36abb0" stroke="#fff" stroke-width="0.5"/>
<polygon points="346.93,211.71 344.25,207.06 349.62,207.06" fill="#36abb0" stroke="#fff" stroke-width="0.5"/>
<polygon points="340.87,196.11 338.18,191.46 343.55,191.46" fill="#36abb0" stroke="#fff" stroke-width="0.5"/>
<polygon points="366.34,182.06 366.96,183.41 368.43,183.58 367.34,184.58 367.63,186.04 366.34,185.31 365.05,186.04 365.34,184.58 364.25,183.58 365.72,183.41" fill="#eb8032" stroke="#fff" stroke-width="0.5"/>
<polygon points="388.87,193.32 389.48,194.67 390.96,194.84 389.86,195.85 390.16,197.30 388.87,196.57 387.57,197.30 387.87,195.85 386.77,194.84 388.25,194.67" fill="#eb8032" stroke="#fff" stroke-width="0.5"/>
<path d="M374.56,188.07L379.96,188.07M377.26,185.37L377.26,190.77" stroke="#639df4" stroke-width="1.50" fill="none"/>
<path d="M372.82,188.59L378.22,188.59M375.52,185.89L375.52,191.29" stroke="#639df4" stroke-width="1.50" fill="none"/>
<polygon points="298.91,253.88 301.48,255.75 300.50,258.77 297.32,258.77 296.34,255.75" fill="#b486f4" stroke="#fff" stroke-width="0.5"/>
<rect x="307.10" y="266.56" width="5.40" height="5.40" fill="#c19632" stroke="#fff" stroke-width="0.5"/>
<rect x="303.54" y="277.05" width="5.40" height="5.40" fill="#c19632" stroke="#fff" stroke-width="0.5"/>
<rect x="319.97" y="282.40" width="5.40" height="5.40" fill="#c19632" stroke="#fff" stroke-width="0.5"/>
<rect x="326.51" y="312.70" width="5.40" height="5.40" fill="#c19632" stroke="#fff" stroke-width="0.5"/>
<rect x="315.02" y="327.15" width="5.40" height="5.40" fill="#c19632" stroke="#fff" stroke-width="0.5"/>
<rect x="346.71" y="262.20" width="5.40" height="5.40" fill="#c19632" stroke="#fff" stroke-width="0.5"/>
<polygon points="295.54,270.79 292.86,266.14 298.23,266.14" fill="#36abb0" stroke="#fff" stroke-width="0.5"/>
<polygon points="313.37,269.60 310.68,264.95 316.05,264.95" fill="#36abb0" stroke="#fff" stroke-width="0.5"/>
<polygon points="318.71,263.27 316.03,258.62 321.40,258.62" fill="#36abb0" stroke="#fff" stroke-width="0.5"/>
<polygon points="323.27,265.64 320.58,260.99 325.95,260.99" fill="#36abb0" stroke="#fff" stroke-width="0.5"/>
<polygon points="332.57,266.83 329.89,262.18 335.26,262.18" fill="#36abb0" stroke="#fff" stroke-width="0.5"/>
<polygon points="337.92,265.64 335.24,260.99 340.61,260.99" fill="#36abb0" stroke="#fff" stroke-width="0.5"/>
<polygon points="349.01,264.26 346.33,259.61 351.69,259.61" fill="#36abb0" stroke="#fff" stroke-width="0.5"/>
<polygon points="351.78,265.25 349.10,260.60 354.47,260.60" fill="#36abb0" stroke="#fff" stroke-width="0.5"/>
<polygon points="346.44,270.79 343.75,266.14 349.12,266.14" fill="#36abb0" stroke="#fff" stroke-width="0.5"/>
<polygon points="349.01,272.18 346.33,267.53 351.69,267.53" fill="#36abb0" stroke="#fff" stroke-width="0.5"/>
<polygon points="352.38,276.14 349.69,271.49 355.06,271.49" fill="#36abb0" stroke="#fff" stroke-width="0.5"/>
<polygon points="351.39,282.67 348.70,278.02 354.07,278.02" fill="#36abb0" stroke="#fff" stroke-width="0.5"/>
<polygon points="340.50,279.11 337.81,274.46 343.18,274.46" fill="#36abb0" stroke="#fff" stroke-width="0.5"/>
<polygon points="336.53,285.05 333.85,280.40 339.22,280.40" fill="#36abb0" stroke="#fff" stroke-width="0.5"/>
<polygon points="320.69,282.67 318.01,278.02 323.38,278.02" fill="#36abb0" stroke="#fff" stroke-width="0.5"/>
<polygon points="342.48,289.40 339.79,284.75 345.16,284.75" fill="#36abb0" stroke="#fff" stroke-width="0.5"/>
<polygon points="347.43,288.02 344.74,283.37 350.11,283.37" fill="#36abb0" stroke="#fff" stroke-width="0.5"/>
<polygon points="348.42,293.96 345.73,289.31 351.10,289.31" fill="#36abb0" stroke="#fff" stroke-width="0.5"/>
<polygon points="329.60,292.57 326.92,287.92 332.29,287.92" fill="#36abb0" stroke="#fff" stroke-width="0.5"/>
<polygon points="333.96,294.55 331.28,289.90 336.65,289.90" fill="#36abb0" stroke="#fff" stroke-width="0.5"/>
<polygon points="331.98,297.92 329.30,293.27 334.66,293.27" fill="#36abb0" stroke="#fff" stroke-width="0.5"/>
<polygon points="331.19,301.29 328.50,296.64 333.87,296.64" fill="#36abb0" stroke="#fff" stroke-width="0.5"/>
<polygon points="337.52,300.49 334.84,295.84 340.21,295.84" fill="#36abb0" stroke="#fff" stroke-width="0.5"/>
<polygon points="341.88,299.90 339.20,295.25 344.57,295.25" fill="#36abb0" stroke="#fff" stroke-width="0.5"/>
<polygon points="339.50,304.45 336.82,299.80 342.19,299.80" fill="#36abb0" stroke="#fff" stroke-width="0.5"/>
<polygon points="343.07,304.85 340.38,300.20 345.75,300.20" fill="#36abb0" stroke="#fff" stroke-width="0.5"/>
<polygon points="348.42,301.88 345.73,297.23 351.10,297.23" fill="#36abb0" stroke="#fff" stroke-width="0.5"/>
<polygon points="353.76,299.90 351.08,295.25 356.45,295.25" fill="#36abb0" stroke="#fff" stroke-width="0.5"/>
<polygon points="352.97,302.47 350.29,297.82 355.65,297.82" fill="#36abb0" stroke="#fff" stroke-width="0.5"/>
<polygon points="345.45,305.25 342.76,300.60 348.13,300.60" fill="#36abb0" stroke="#fff" stroke-width="0.5"/>
<polygon points="335.54,309.80 332.86,305.15 338.23,305.15" fill="#36abb0" stroke="#fff" stroke-width="0.5"/>
<polygon points="323.66,326.24 320.98,321.59 326.35,321.59" fill="#36abb0" stroke="#fff" stroke-width="0.5"/>
<polygon points="328.61,310.39 325.93,305.74 331.30,305.74" fill="#36abb0" stroke="#fff" stroke-width="0.5"/>
<circle cx="323.27" cy="276.39" r="2.70" fill="#f77189" stroke="#fff" stroke-width="0.5"/>
<circle cx="327.23" cy="284.70" r="2.70" fill="#f77189" stroke="#fff" stroke-width="0.5"/>
<circle cx="294.36" cy="303.51" r="2.70" fill="#f77189" stroke="#fff" stroke-width="0.5"/>
<circle cx="292.97" cy="314.01" r="2.70" fill="#f77189" stroke="#fff" stroke-width="0.5"/>
<circle cx="294.95" cy="318.76" r="2.70" fill="#f77189" stroke="#fff" stroke-width="0.5"/>
<circle cx="294.95" cy="323.32" r="2.70" fill="#f77189" stroke="#fff" stroke-width="0.5"/>
<circle cx="313.37" cy="306.88" r="2.70" fill="#f77189" stroke="#fff" stroke-width="0.5"/>
<circle cx="315.35" cy="310.05" r="2.70" fill="#f77189" stroke="#fff" stroke-width="0.5"/>
<circle cx="319.31" cy="309.46" r="2.70" fill="#f77189" stroke="#fff" stroke-width="0.5"/>
<circle cx="306.24" cy="312.43" r="2.70" fill="#f77189" stroke="#fff" stroke-width="0.5"/>
<circle cx="319.70" cy="318.76" r="2.70" fill="#f77189" stroke="#fff" stroke-width="0.5"/>
<circle cx="315.35" cy="325.89" r="2.70" fill="#f77189" stroke="#fff" stroke-width="0.5"/>
<polygon points="300.86,295.86 302.21,297.21 302.21,299.13 300.86,300.48 298.94,300.48 297.59,299.13 297.59,297.21 298.94,295.86" fill="#33b16f" stroke="#fff" stroke-width="0.5"/>
<polygon points="305.81,301.21 307.16,302.56 307.16,304.47 305.81,305.82 303.89,305.82 302.54,304.47 302.54,302.56 303.89,301.21" fill="#33b16f" stroke="#fff" stroke-width="0.5"/>
<polygon points="305.21,303.19 306.57,304.54 306.57,306.45 305.21,307.80 303.30,307.80 301.95,306.45 301.95,304.54 303.30,303.19" fill="#33b16f" stroke="#fff" stroke-width="0.5"/>
<polygon points="343.43,307.15 344.78,308.50 344.78,310.41 343.43,311.77 341.52,311.77 340.17,310.41 340.17,308.50 341.52,307.15" fill="#33b16f" stroke="#fff" stroke-width="0.5"/>
<polygon points="336.11,310.51 337.46,311.87 337.46,313.78 336.11,315.13 334.19,315.13 332.84,313.78 332.84,311.87 334.19,310.51" fill="#33b16f" stroke="#fff" stroke-width="0.5"/>
<polygon points="310.76,313.68 312.11,315.03 312.11,316.95 310.76,318.30 308.85,318.30 307.49,316.95 307.49,315.03 308.85,313.68" fill="#33b16f" stroke="#fff" stroke-width="0.5"/>
<polygon points="305.21,316.06 306.57,317.41 306.57,319.32 305.21,320.68 303.30,320.68 301.95,319.32 301.95,317.41 303.30,316.06" fill="#33b16f" stroke="#fff" stroke-width="0.5"/>
<polygon points="303.23,317.05 304.59,318.40 304.59,320.31 303.23,321.67 301.32,321.67 299.97,320.31 299.97,318.40 301.32,317.05" fill="#33b16f" stroke="#fff" stroke-width="0.5"/>
<polygon points="315.71,314.47 317.06,315.83 317.06,317.74 315.71,319.09 313.80,319.09 312.44,317.74 312.44,315.83 313.80,314.47" fill="#33b16f" stroke="#fff" stroke-width="0.5"/>
<polygon points="313.13,319.03 314.49,320.38 314.49,322.29 313.13,323.65 311.22,323.65 309.87,322.29 309.87,320.38 311.22,319.03" fill="#33b16f" stroke="#fff" stroke-width="0.5"/>
<polygon points="318.68,317.64 320.03,318.99 320.03,320.91 318.68,322.26 316.77,322.26 315.41,320.91 315.41,318.99 316.77,317.64" fill="#33b16f" stroke="#fff" stroke-width="0.5"/>
<polygon points="316.70,321.01 318.05,322.36 318.05,324.27 316.70,325.63 314.79,325.63 313.43,324.27 313.43,322.36 314.79,321.01" fill="#33b16f" stroke="#fff" stroke-width="0.5"/>
<polygon points="326.04,259.14 326.66,260.49 328.13,260.66 327.04,261.66 327.33,263.12 326.04,262.39 324.75,263.12 325.04,261.66 323.95,260.66 325.42,260.49" fill="#eb8032" stroke="#fff" stroke-width="0.5"/>
<polygon points="337.13,291.41 337.75,292.76 339.22,292.93 338.13,293.94 338.42,295.39 337.13,294.66 335.84,295.39 336.13,293.94 335.04,292.93 336.51,292.76" fill="#eb8032" stroke="#fff" stroke-width="0.5"/>
<polygon points="304.26,295.97 304.87,297.32 306.35,297.49 305.26,298.49 305.55,299.95 304.26,299.22 302.96,299.95 303.26,298.49 302.17,297.49 303.64,297.32" fill="#eb8032" stroke="#fff" stroke-width="0.5"/>
<polygon points="290.99,295.37 291.61,296.72 293.08,296.89 291.99,297.90 292.28,299.35 290.99,298.62 289.70,299.35 289.99,297.90 288.90,296.89 290.37,296.72" fill="#eb8032" stroke="#fff" stroke-width="0.5"/>
<polygon points="299.90,314.46 302.59,319.11 297.22,319.11" fill="#a0a131" stroke="#fff" stroke-width="0.5"/>
<polygon points="323.27,317.63 325.95,322.28 320.58,322.28" fill="#a0a131" stroke="#fff" stroke-width="0.5"/>
<path d="M328.49,309.46L333.89,309.46M331.19,306.76L331.19,312.16" stroke="#639df4" stroke-width="1.50" fill="none"/>
<polygon points="352.97,293.88 353.92,295.63 355.67,296.58 353.92,297.54 352.97,299.28 352.02,297.54 350.27,296.58 352.02,295.63" fill="#35ae97" stroke="#fff" stroke-width="0.5"/>
<polygon points="359.93,239.45 357.24,234.80 362.61,234.80" fill="#36abb0" stroke="#fff" stroke-width="0.5"/>
<polygon points="359.06,240.32 356.38,235.67 361.75,235.67" fill="#36abb0" stroke="#fff" stroke-width="0.5"/>
<polygon points="350.05,243.79 347.37,239.14 352.73,239.14" fill="#36abb0" stroke="#fff" stroke-width="0.5"/>
<polygon points="349.01,256.78 346.33,252.13 351.70,252.13" fill="#36abb0" stroke="#fff" stroke-width="0.5"/>
<polygon points="343.47,258.86 340.78,254.21 346.15,254.21" fill="#36abb0" stroke="#fff" stroke-width="0.5"/>
<polygon points="348.32,263.71 345.63,259.06 351.00,259.06" fill="#36abb0" stroke="#fff" stroke-width="0.5"/>
<polygon points="351.26,264.58 348.58,259.93 353.95,259.93" fill="#36abb0" stroke="#fff" stroke-width="0.5"/>
<polygon points="346.93,269.78 344.25,265.13 349.62,265.13" fill="#36abb0" stroke="#fff" stroke-width="0.5"/>
<polygon points="348.32,272.03 345.63,267.38 351.00,267.38" fill="#36abb0" stroke="#fff" stroke-width="0.5"/>
<polygon points="352.13,274.98 349.44,270.33 354.81,270.33" fill="#36abb0" stroke="#fff" stroke-width="0.5"/>
<polygon points="351.26,278.44 348.58,273.79 353.95,273.79" fill="#36abb0" stroke="#fff" stroke-width="0.5"/>
<polygon points="350.74,282.77 348.06,278.12 353.43,278.12" fill="#36abb0" stroke="#fff" stroke-width="0.5"/>
<polygon points="340.87,278.96 338.18,274.31 343.55,274.31" fill="#36abb0" stroke="#fff" stroke-width="0.5"/>
<polygon points="343.12,288.84 340.43,284.19 345.80,284.19" fill="#36abb0" stroke="#fff" stroke-width="0.5"/>
<polygon points="346.93,287.11 344.25,282.46 349.62,282.46" fill="#36abb0" stroke="#fff" stroke-width="0.5"/>
<polygon points="347.28,292.82 344.59,288.17 349.96,288.17" fill="#36abb0" stroke="#fff" stroke-width="0.5"/>
<polygon points="349.01,293.52 346.33,288.87 351.70,288.87" fill="#36abb0" stroke="#fff" stroke-width="0.5"/>
<rect x="340.42" y="259.56" width="5.40" height="5.40" fill="#c19632" stroke="#fff" stroke-width="0.5"/>
<rect x="346.83" y="261.81" width="5.40" height="5.40" fill="#c19632" stroke="#fff" stroke-width="0.5"/>
<circle cx="294.46" cy="303.56" r="2.70" fill="#f77189" stroke="#fff" stroke-width="0.5"/>
<circle cx="305.35" cy="301.98" r="2.70" fill="#f77189" stroke="#fff" stroke-width="0.5"/>
<circle cx="312.87" cy="306.93" r="2.70" fill="#f77189" stroke="#fff" stroke-width="0.5"/>
<circle cx="315.25" cy="309.90" r="2.70" fill="#f77189" stroke="#fff" stroke-width="0.5"/>
<circle cx="270.69" cy="315.84" r="2.70" fill="#f77189" stroke="#fff" stroke-width="0.5"/>
<circle cx="293.07" cy="313.86" r="2.70" fill="#f77189" stroke="#fff" stroke-width="0.5"/>
<circle cx="293.07" cy="318.81" r="2.70" fill="#f77189" stroke="#fff" stroke-width="0.5"/>
<circle cx="295.05" cy="322.77" r="2.70" fill="#f77189" stroke="#fff" stroke-width="0.5"/>
<circle cx="287.13" cy="324.16" r="2.70" fill="#f77189" stroke="#fff" stroke-width="0.5"/>
<circle cx="265.35" cy="325.74" r="2.70" fill="#f77189" stroke="#fff" stroke-width="0.5"/>
<circle cx="305.35" cy="312.28" r="2.70" fill="#f77189" stroke="#fff" stroke-width="0.5"/>
<circle cx="314.85" cy="326.14" r="2.70" fill="#f77189" stroke="#fff" stroke-width="0.5"/>
<circle cx="266.73" cy="339.60" r="2.70" fill="#f77189" stroke="#fff" stroke-width="0.5"/>
<circle cx="272.08" cy="340.59" r="2.70" fill="#f77189" stroke="#fff" stroke-width="0.5"/>
<circle cx="279.21" cy="340.59" r="2.70" fill="#f77189" stroke="#fff" stroke-width="0.5"/>
<circle cx="263.37" cy="345.15" r="2.70" fill="#f77189" stroke="#fff" stroke-width="0.5"/>
<circle cx="268.71" cy="343.96" r="2.70" fill="#f77189" stroke="#fff" stroke-width="0.5"/>
<circle cx="273.66" cy="343.56" r="2.70" fill="#f77189" stroke="#fff" stroke-width="0.5"/>
<circle cx="276.04" cy="347.92" r="2.70" fill="#f77189" stroke="#fff" stroke-width="0.5"/>
<circle cx="267.72" cy="348.51" r="2.70" fill="#f77189" stroke="#fff" stroke-width="0.5"/>
<circle cx="269.70" cy="353.07" r="2.70" fill="#f77189" stroke="#fff" stroke-width="0.5"/>
<circle cx="271.68" cy="355.84" r="2.70" fill="#f77189" stroke="#fff" stroke-width="0.5"/>
<circle cx="279.60" cy="353.07" r="2.70" fill="#f77189" stroke="#fff" stroke-width="0.5"/>
<circle cx="290.50" cy="339.21" r="2.70" fill="#f77189" stroke="#fff" stroke-width="0.5"/>
<circle cx="289.90" cy="349.11" r="2.70" fill="#f77189" stroke="#fff" stroke-width="0.5"/>
<circle cx="283.96" cy="355.84" r="2.70" fill="#f77189" stroke="#fff" stroke-width="0.5"/>
<circle cx="285.94" cy="357.82" r="2.70" fill="#f77189" stroke="#fff" stroke-width="0.5"/>
<circle cx="291.88" cy="356.44" r="2.70" fill="#f77189" stroke="#fff" stroke-width="0.5"/>
<circle cx="289.90" cy="360.99" r="2.70" fill="#f77189" stroke="#fff" stroke-width="0.5"/>
<circle cx="288.51" cy="363.76" r="2.70" fill="#f77189" stroke="#fff" stroke-width="0.5"/>
<circle cx="290.50" cy="365.35" r="2.70" fill="#f77189" stroke="#fff" stroke-width="0.5"/>
<circle cx="269.31" cy="363.76" r="2.70" fill="#f77189" stroke="#fff" stroke-width="0.5"/>
<circle cx="270.69" cy="368.32" r="2.70" fill="#f77189" stroke="#fff" stroke-width="0.5"/>
<polygon points="266.73,311.24 264.05,306.59 269.42,306.59" fill="#36abb0" stroke="#fff" stroke-width="0.5"/>
<rect x="283.83" y="308.19" width="5.40" height="5.40" fill="#c19632" stroke="#fff" stroke-width="0.5"/>
<rect x="281.85" y="361.66" width="5.40" height="5.40" fill="#c19632" stroke="#fff" stroke-width="0.5"/>
<rect x="314.53" y="327.00" width="5.40" height="5.40" fill="#c19632" stroke="#fff" stroke-width="0.5"/>
<polygon points="299.41,313.91 302.09,318.56 296.72,318.56" fill="#a0a131" stroke="#fff" stroke-width="0.5"/>
<polygon points="289.50,330.35 292.19,335.00 286.82,335.00" fill="#a0a131" stroke="#fff" stroke-width="0.5"/>
<polygon points="271.68,335.30 274.37,339.95 269.00,339.95" fill="#a0a131" stroke="#fff" stroke-width="0.5"/>
<polygon points="304.72,302.64 306.07,303.99 306.07,305.91 304.72,307.26 302.81,307.26 301.45,305.91 301.45,303.99 302.81,302.64" fill="#33b16f" stroke="#fff" stroke-width="0.5"/>
<polygon points="303.93,314.52 305.28,315.87 305.28,317.79 303.93,319.14 302.01,319.14 300.66,317.79 300.66,315.87 302.01,314.52" fill="#33b16f" stroke="#fff" stroke-width="0.5"/>
<polygon points="306.30,315.91 307.66,317.26 307.66,319.17 306.30,320.53 304.39,320.53 303.04,319.17 303.04,317.26 304.39,315.91" fill="#33b16f" stroke="#fff" stroke-width="0.5"/>
<polygon points="310.26,313.53 311.62,314.88 311.62,316.80 310.26,318.15 308.35,318.15 307.00,316.80 307.00,314.88 308.35,313.53" fill="#33b16f" stroke="#fff" stroke-width="0.5"/>
<polygon points="315.21,315.12 316.57,316.47 316.57,318.38 315.21,319.74 313.30,319.74 311.95,318.38 311.95,316.47 313.30,315.12" fill="#33b16f" stroke="#fff" stroke-width="0.5"/>
<polygon points="317.79,317.49 319.14,318.85 319.14,320.76 317.79,322.11 315.87,322.11 314.52,320.76 314.52,318.85 315.87,317.49" fill="#33b16f" stroke="#fff" stroke-width="0.5"/>
<polygon points="149.27,259.57 150.63,260.92 150.63,262.84 149.27,264.19 147.36,264.19 146.01,262.84 146.01,260.92 147.36,259.57" fill="#33b16f" stroke="#fff" stroke-width="0.5"/>
<polygon points="151.85,259.57 153.20,260.92 153.20,262.84 151.85,264.19 149.93,264.19 148.58,262.84 148.58,260.92 149.93,259.57" fill="#33b16f" stroke="#fff" stroke-width="0.5"/>
<polygon points="154.42,265.91 155.78,267.26 155.78,269.17 154.42,270.53 152.51,270.53 151.16,269.17 151.16,267.26 152.51,265.91" fill="#33b16f" stroke="#fff" stroke-width="0.5"/>
<polygon points="156.80,263.14 158.15,264.49 158.15,266.40 156.80,267.76 154.88,267.76 153.53,266.40 153.53,264.49 154.88,263.14" fill="#33b16f" stroke="#fff" stroke-width="0.5"/>
<polygon points="159.77,262.54 161.12,263.89 161.12,265.81 159.77,267.16 157.86,267.16 156.50,265.81 156.50,263.89 157.86,262.54" fill="#33b16f" stroke="#fff" stroke-width="0.5"/>
<polygon points="174.06,275.31 177.46,278.71 174.06,282.11 170.66,278.71" fill="#71ac31" stroke="#fff" stroke-width="0.5"/>
<polygon points="163.76,251.64 166.45,256.29 161.08,256.29" fill="#a0a131" stroke="#fff" stroke-width="0.5"/>
<polygon points="166.73,250.65 169.42,255.30 164.05,255.30" fill="#a0a131" stroke="#fff" stroke-width="0.5"/>
<polygon points="164.75,256.59 167.44,261.24 162.07,261.24" fill="#a0a131" stroke="#fff" stroke-width="0.5"/>
<polygon points="168.71,255.99 171.40,260.64 166.03,260.64" fill="#a0a131" stroke="#fff" stroke-width="0.5"/>
<polygon points="172.08,254.61 174.76,259.26 169.39,259.26" fill="#a0a131" stroke="#fff" stroke-width="0.5"/>
<polygon points="181.58,255.20 184.27,259.85 178.90,259.85" fill="#a0a131" stroke="#fff" stroke-width="0.5"/>
<polygon points="185.94,251.64 188.63,256.29 183.26,256.29" fill="#a0a131" stroke="#fff" stroke-width="0.5"/>
<polygon points="187.52,255.60 190.21,260.25 184.84,260.25" fill="#a0a131" stroke="#fff" stroke-width="0.5"/>
<polygon points="186.53,259.56 189.22,264.21 183.85,264.21" fill="#a0a131" stroke="#fff" stroke-width="0.5"/>
<polygon points="188.51,258.57 191.20,263.22 185.83,263.22" fill="#a0a131" stroke="#fff" stroke-width="0.5"/>
<polygon points="182.57,264.51 185.26,269.16 179.89,269.16" fill="#a0a131" stroke="#fff" stroke-width="0.5"/>
<polygon points="185.54,265.10 188.23,269.75 182.86,269.75" fill="#a0a131" stroke="#fff" stroke-width="0.5"/>
<polygon points="195.45,249.66 198.13,254.31 192.76,254.31" fill="#a0a131" stroke="#fff" stroke-width="0.5"/>
<polygon points="199.41,254.61 202.09,259.26 196.72,259.26" fill="#a0a131" stroke="#fff" stroke-width="0.5"/>
<polygon points="197.03,256.59 199.71,261.24 194.35,261.24" fill="#a0a131" stroke="#fff" stroke-width="0.5"/>
<polygon points="203.37,251.24 206.05,255.89 200.68,255.89" fill="#a0a131" stroke="#fff" stroke-width="0.5"/>
<polygon points="206.34,250.65 209.02,255.30 203.65,255.30" fill="#a0a131" stroke="#fff" stroke-width="0.5"/>
<polygon points="210.30,250.65 212.98,255.30 207.61,255.30" fill="#a0a131" stroke="#fff" stroke-width="0.5"/>
<polygon points="205.35,258.57 208.03,263.22 202.66,263.22" fill="#a0a131" stroke="#fff" stroke-width="0.5"/>
<polygon points="208.32,260.55 211.00,265.20 205.63,265.20" fill="#a0a131" stroke="#fff" stroke-width="0.5"/>
<polygon points="199.80,261.14 202.49,265.79 197.12,265.79" fill="#a0a131" stroke="#fff" stroke-width="0.5"/>
<polygon points="198.42,265.10 201.10,269.75 195.73,269.75" fill="#a0a131" stroke="#fff" stroke-width="0.5"/>
<polygon points="202.97,267.48 205.65,272.13 200.29,272.13" fill="#a0a131" stroke="#fff" stroke-width="0.5"/>
<polygon points="214.85,255.20 217.54,259.85 212.17,259.85" fill="#a0a131" stroke="#fff" stroke-width="0.5"/>
<polygon points="217.23,259.56 219.91,264.21 214.54,264.21" fill="#a0a131" stroke="#fff" stroke-width="0.5"/>
<polygon points="213.66,263.91 216.35,268.56 210.98,268.56" fill="#a0a131" stroke="#fff" stroke-width="0.5"/>
<polygon points="209.31,266.49 211.99,271.14 206.62,271.14" fill="#a0a131" stroke="#fff" stroke-width="0.5"/>
<polygon points="214.85,267.48 217.54,272.13 212.17,272.13" fill="#a0a131" stroke="#fff" stroke-width="0.5"/>
<polygon points="215.64,271.83 218.33,276.48 212.96,276.48" fill="#a0a131" stroke="#fff" stroke-width="0.5"/>
<polygon points="195.05,272.43 197.73,277.08 192.36,277.08" fill="#a0a131" stroke="#fff" stroke-width="0.5"/>
<circle cx="242.49" cy="260.20" r="2.70" fill="#f77189" stroke="#fff" stroke-width="0.5"/>
<circle cx="249.43" cy="267.38" r="2.70" fill="#f77189" stroke="#fff" stroke-width="0.5"/>
<rect x="269.27" y="267.41" width="5.40" height="5.40" fill="#c19632" stroke="#fff" stroke-width="0.5"/>
<polygon points="274.44,262.28 271.76,257.63 277.13,257.63" fill="#36abb0" stroke="#fff" stroke-width="0.5"/>
<polygon points="250.29,291.68 252.98,296.33 247.61,296.33" fill="#a0a131" stroke="#fff" stroke-width="0.5"/>
<polygon points="285.59,290.94 286.21,292.29 287.68,292.46 286.59,293.47 286.88,294.92 285.59,294.19 284.30,294.92 284.59,293.47 283.50,292.46 284.97,292.29" fill="#eb8032" stroke="#fff" stroke-width="0.5"/>
<polygon points="290.29,295.90 290.91,297.25 292.39,297.42 291.29,298.42 291.59,299.88 290.29,299.15 289.00,299.88 289.30,298.42 288.20,297.42 289.68,297.25" fill="#eb8032" stroke="#fff" stroke-width="0.5"/>
<circle cx="56.40" cy="281.98" r="2.70" fill="#f77189" stroke="#fff" stroke-width="0.5"/>
<circle cx="58.99" cy="282.33" r="2.70" fill="#f77189" stroke="#fff" stroke-width="0.5"/>
<circle cx="62.46" cy="282.68" r="2.70" fill="#f77189" stroke="#fff" stroke-width="0.5"/>
<circle cx="52.93" cy="288.92" r="2.70" fill="#f77189" stroke="#fff" stroke-width="0.5"/>
<circle cx="59.86" cy="287.88" r="2.70" fill="#f77189" stroke="#fff" stroke-width="0.5"/>
<circle cx="65.41" cy="288.40" r="2.70" fill="#f77189" stroke="#fff" stroke-width="0.5"/>
<circle cx="70.61" cy="287.18" r="2.70" fill="#f77189" stroke="#fff" stroke-width="0.5"/>
<circle cx="71.65" cy="289.26" r="2.70" fill="#f77189" stroke="#fff" stroke-width="0.5"/>
<circle cx="61.59" cy="291.86" r="2.70" fill="#f77189" stroke="#fff" stroke-width="0.5"/>
<circle cx="45.65" cy="297.93" r="2.70" fill="#f77189" stroke="#fff" stroke-width="0.5"/>
<circle cx="37.33" cy="302.26" r="2.70" fill="#f77189" stroke="#fff" stroke-width="0.5"/>
<circle cx="58.47" cy="299.66" r="2.70" fill="#f77189" stroke="#fff" stroke-width="0.5"/>
<circle cx="68.18" cy="297.93" r="2.70" fill="#f77189" stroke="#fff" stroke-width="0.5"/>
<circle cx="72.86" cy="297.06" r="2.70" fill="#f77189" stroke="#fff" stroke-width="0.5"/>
<circle cx="79.79" cy="300.53" r="2.70" fill="#f77189" stroke="#fff" stroke-width="0.5"/>
<circle cx="71.99" cy="308.33" r="2.70" fill="#f77189" stroke="#fff" stroke-width="0.5"/>
<circle cx="74.59" cy="310.41" r="2.70" fill="#f77189" stroke="#fff" stroke-width="0.5"/>
<circle cx="78.93" cy="312.66" r="2.70" fill="#f77189" stroke="#fff" stroke-width="0.5"/>
<circle cx="82.05" cy="309.19" r="2.70" fill="#f77189" stroke="#fff" stroke-width="0.5"/>
<circle cx="84.99" cy="305.73" r="2.70" fill="#f77189" stroke="#fff" stroke-width="0.5"/>
<circle cx="88.46" cy="304.51" r="2.70" fill="#f77189" stroke="#fff" stroke-width="0.5"/>
<circle cx="92.79" cy="302.26" r="2.70" fill="#f77189" stroke="#fff" stroke-width="0.5"/>
<circle cx="93.66" cy="298.80" r="2.70" fill="#f77189" stroke="#fff" stroke-width="0.5"/>
<circle cx="53.28" cy="306.59" r="2.70" fill="#f77189" stroke="#fff" stroke-width="0.5"/>
<circle cx="53.28" cy="309.71" r="2.70" fill="#f77189" stroke="#fff" stroke-width="0.5"/>
<circle cx="60.73" cy="307.46" r="2.70" fill="#f77189" stroke="#fff" stroke-width="0.5"/>
<circle cx="111.51" cy="294.12" r="2.70" fill="#f77189" stroke="#fff" stroke-width="0.5"/>
<circle cx="49.46" cy="301.40" r="2.70" fill="#f77189" stroke="#fff" stroke-width="0.5"/>
<circle cx="70.26" cy="307.46" r="2.70" fill="#f77189" stroke="#fff" stroke-width="0.5"/>
<polygon points="50.33,290.20 53.73,293.60 50.33,297.00 46.93,293.60" fill="#71ac31" stroke="#fff" stroke-width="0.5"/>
<polygon points="34.73,300.07 38.13,303.47 34.73,306.87 31.33,303.47" fill="#71ac31" stroke="#fff" stroke-width="0.5"/>
<polygon points="31.27,299.38 34.67,302.78 31.27,306.18 27.87,302.78" fill="#71ac31" stroke="#fff" stroke-width="0.5"/>
<polygon points="42.53,298.34 45.93,301.74 42.53,305.14 39.13,301.74" fill="#71ac31" stroke="#fff" stroke-width="0.5"/>
<polygon points="76.33,302.85 79.73,306.25 76.33,309.65 72.93,306.25" fill="#71ac31" stroke="#fff" stroke-width="0.5"/>
<path d="M49.96,298.43L54.16,302.63M49.96,302.63L54.16,298.43" stroke="#39a8cc" stroke-width="1.40" fill="none"/>
<polygon points="58.47,303.40 61.16,308.05 55.79,308.05" fill="#a0a131" stroke="#fff" stroke-width="0.5"/>
<polygon points="65.93,302.54 68.61,307.19 63.24,307.19" fill="#a0a131" stroke="#fff" stroke-width="0.5"/>
<polygon points="67.66,307.39 70.34,312.04 64.98,312.04" fill="#a0a131" stroke="#fff" stroke-width="0.5"/>
<polygon points="71.13,289.54 73.81,294.19 68.44,294.19" fill="#a0a131" stroke="#fff" stroke-width="0.5"/>
<rect x="72.76" y="292.11" width="5.40" height="5.40" fill="#c19632" stroke="#fff" stroke-width="0.5"/>
<polygon points="79.79,274.59 80.41,275.94 81.88,276.11 80.79,277.11 81.09,278.56 79.79,277.84 78.50,278.56 78.79,277.11 77.70,276.11 79.17,275.94" fill="#eb8032" stroke="#fff" stroke-width="0.5"/>
<polygon points="56.05,292.61 56.67,293.96 58.14,294.13 57.05,295.13 57.34,296.59 56.05,295.86 54.76,296.59 55.05,295.13 53.96,294.13 55.43,293.96" fill="#eb8032" stroke="#fff" stroke-width="0.5"/>
<polygon points="66.45,291.92 67.06,293.27 68.54,293.44 67.45,294.44 67.74,295.90 66.45,295.17 65.15,295.90 65.45,294.44 64.35,293.44 65.83,293.27" fill="#eb8032" stroke="#fff" stroke-width="0.5"/>
<polygon points="46.00,302.66 46.61,304.01 48.09,304.18 47.00,305.19 47.29,306.64 46.00,305.91 44.70,306.64 45.00,305.19 43.90,304.18 45.38,304.01" fill="#eb8032" stroke="#fff" stroke-width="0.5"/>
<polygon points="78.58,309.59 79.20,310.94 80.67,311.11 79.58,312.12 79.87,313.57 78.58,312.84 77.29,313.57 77.58,312.12 76.49,311.11 77.96,310.94" fill="#eb8032" stroke="#fff" stroke-width="0.5"/>
<rect x="277.05" y="160.30" width="5.40" height="5.40" fill="#c19632" stroke="#fff" stroke-width="0.5"/>
<rect x="267.77" y="162.77" width="5.40" height="5.40" fill="#c19632" stroke="#fff" stroke-width="0.5"/>
<rect x="288.19" y="169.58" width="5.40" height="5.40" fill="#c19632" stroke="#fff" stroke-width="0.5"/>
<rect x="279.53" y="181.33" width="5.40" height="5.40" fill="#c19632" stroke="#fff" stroke-width="0.5"/>
<polygon points="263.04,154.61 263.66,155.96 265.14,156.13 264.04,157.13 264.34,158.59 263.04,157.86 261.75,158.59 262.05,157.13 260.95,156.13 262.43,155.96" fill="#eb8032" stroke="#fff" stroke-width="0.5"/>
<polygon points="273.56,158.32 274.18,159.67 275.66,159.84 274.56,160.84 274.86,162.30 273.56,161.57 272.27,162.30 272.57,160.84 271.47,159.84 272.95,159.67" fill="#eb8032" stroke="#fff" stroke-width="0.5"/>
<polygon points="267.38,166.36 267.99,167.71 269.47,167.88 268.37,168.89 268.67,170.34 267.38,169.61 266.08,170.34 266.38,168.89 265.28,167.88 266.76,167.71" fill="#eb8032" stroke="#fff" stroke-width="0.5"/>
<polygon points="256.86,169.46 257.47,170.81 258.95,170.98 257.86,171.98 258.15,173.44 256.86,172.71 255.56,173.44 255.86,171.98 254.76,170.98 256.24,170.81" fill="#eb8032" stroke="#fff" stroke-width="0.5"/>
<polygon points="259.33,171.31 259.95,172.67 261.42,172.84 260.33,173.84 260.62,175.29 259.33,174.56 258.04,175.29 258.33,173.84 257.24,172.84 258.71,172.67" fill="#eb8032" stroke="#fff" stroke-width="0.5"/>
<polygon points="262.43,173.79 263.04,175.14 264.52,175.31 263.42,176.31 263.72,177.77 262.43,177.04 261.13,177.77 261.43,176.31 260.33,175.31 261.81,175.14" fill="#eb8032" stroke="#fff" stroke-width="0.5"/>
<polygon points="277.28,171.31 277.89,172.67 279.37,172.84 278.28,173.84 278.57,175.29 277.28,174.56 275.98,175.29 276.28,173.84 275.18,172.84 276.66,172.67" fill="#eb8032" stroke="#fff" stroke-width="0.5"/>
<polygon points="275.42,174.41 276.04,175.76 277.51,175.93 276.42,176.93 276.71,178.39 275.42,177.66 274.13,178.39 274.42,176.93 273.33,175.93 274.80,175.76" fill="#eb8032" stroke="#fff" stroke-width="0.5"/>
<polygon points="264.90,178.12 265.52,179.47 266.99,179.64 265.90,180.65 266.19,182.10 264.90,181.37 263.61,182.10 263.90,180.65 262.81,179.64 264.28,179.47" fill="#eb8032" stroke="#fff" stroke-width="0.5"/>
<polygon points="269.23,181.22 269.85,182.57 271.32,182.74 270.23,183.74 270.53,185.20 269.23,184.47 267.94,185.20 268.23,183.74 267.14,182.74 268.62,182.57" fill="#eb8032" stroke="#fff" stroke-width="0.5"/>
<polygon points="260.57,189.26 261.19,190.61 262.66,190.78 261.57,191.78 261.86,193.24 260.57,192.51 259.28,193.24 259.57,191.78 258.48,190.78 259.95,190.61" fill="#eb8032" stroke="#fff" stroke-width="0.5"/>
<polygon points="264.28,191.74 264.90,193.09 266.37,193.26 265.28,194.26 265.58,195.72 264.28,194.99 262.99,195.72 263.28,194.26 262.19,193.26 263.67,193.09" fill="#eb8032" stroke="#fff" stroke-width="0.5"/>
<polygon points="298.94,187.40 299.55,188.75 301.03,188.92 299.93,189.93 300.23,191.38 298.94,190.65 297.64,191.38 297.94,189.93 296.84,188.92 298.32,188.75" fill="#eb8032" stroke="#fff" stroke-width="0.5"/>
<polygon points="303.27,180.60 303.88,181.95 305.36,182.12 304.27,183.12 304.56,184.58 303.27,183.85 301.97,184.58 302.27,183.12 301.18,182.12 302.65,181.95" fill="#eb8032" stroke="#fff" stroke-width="0.5"/>
<polygon points="288.42,183.69 289.03,185.04 290.51,185.21 289.41,186.22 289.71,187.67 288.42,186.94 287.12,187.67 287.42,186.22 286.32,185.21 287.80,185.04" fill="#eb8032" stroke="#fff" stroke-width="0.5"/>
<rect x="284.43" y="112.82" width="5.40" height="5.40" fill="#c19632" stroke="#fff" stroke-width="0.5"/>
<rect x="275.15" y="120.25" width="5.40" height="5.40" fill="#c19632" stroke="#fff" stroke-width="0.5"/>
<rect x="266.48" y="122.10" width="5.40" height="5.40" fill="#c19632" stroke="#fff" stroke-width="0.5"/>
<rect x="269.58" y="131.38" width="5.40" height="5.40" fill="#c19632" stroke="#fff" stroke-width="0.5"/>
<rect x="275.15" y="141.90" width="5.40" height="5.40" fill="#c19632" stroke="#fff" stroke-width="0.5"/>
<rect x="277.00" y="147.47" width="5.40" height="5.40" fill="#c19632" stroke="#fff" stroke-width="0.5"/>
<rect x="267.10" y="114.06" width="5.40" height="5.40" fill="#c19632" stroke="#fff" stroke-width="0.5"/>
<rect x="272.67" y="113.44" width="5.40" height="5.40" fill="#c19632" stroke="#fff" stroke-width="0.5"/>
<rect x="249.16" y="131.38" width="5.40" height="5.40" fill="#c19632" stroke="#fff" stroke-width="0.5"/>
<rect x="270.81" y="142.52" width="5.40" height="5.40" fill="#c19632" stroke="#fff" stroke-width="0.5"/>
<polygon points="282.80,135.60 283.41,136.95 284.89,137.12 283.80,138.12 284.09,139.58 282.80,138.85 281.50,139.58 281.80,138.12 280.70,137.12 282.18,136.95" fill="#eb8032" stroke="#fff" stroke-width="0.5"/>
<polygon points="285.89,136.22 286.51,137.57 287.98,137.74 286.89,138.74 287.18,140.20 285.89,139.47 284.60,140.20 284.89,138.74 283.80,137.74 285.27,137.57" fill="#eb8032" stroke="#fff" stroke-width="0.5"/>
<polygon points="263.00,142.40 263.61,143.75 265.09,143.92 263.99,144.93 264.29,146.38 263.00,145.65 261.70,146.38 262.00,144.93 260.90,143.92 262.38,143.75" fill="#eb8032" stroke="#fff" stroke-width="0.5"/>
<polygon points="254.33,149.83 254.95,151.18 256.42,151.35 255.33,152.35 255.62,153.81 254.33,153.08 253.04,153.81 253.33,152.35 252.24,151.35 253.71,151.18" fill="#eb8032" stroke="#fff" stroke-width="0.5"/>
<polygon points="275.37,107.75 275.99,109.10 277.46,109.27 276.37,110.27 276.66,111.73 275.37,111.00 274.08,111.73 274.37,110.27 273.28,109.27 274.75,109.10" fill="#eb8032" stroke="#fff" stroke-width="0.5"/>
<polygon points="278.47,107.13 279.08,108.48 280.56,108.65 279.46,109.66 279.76,111.11 278.47,110.38 277.17,111.11 277.47,109.66 276.37,108.65 277.85,108.48" fill="#eb8032" stroke="#fff" stroke-width="0.5"/>
</g>
<line x1="16.4" y1="5.3" x2="405.5" y2="5.3" stroke="#858585" stroke-width="1.5"/>
<line x1="16.4" y1="390.7" x2="405.5" y2="390.7" stroke="#747474" stroke-width="1.5"/>
<line x1="16.4" y1="4.6" x2="16.4" y2="391.4" stroke="#5a5a5a" stroke-width="1.3"/>
<line x1="405.5" y1="4.6" x2="405.5" y2="391.4" stroke="#505050" stroke-width="1.2"/>
<line x1="12.9" y1="321.30" x2="16.4" y2="321.30" stroke="#5a5a5a" stroke-width="1.1"/>
<text x="4.47" y="324.60" font-size="9.22" fill="#262626" textLength="5.67" lengthAdjust="spacingAndGlyphs">6</text>
<line x1="12.9" y1="243.30" x2="16.4" y2="243.30" stroke="#5a5a5a" stroke-width="1.1"/>
<text x="4.50" y="246.60" font-size="9.22" fill="#262626" textLength="5.64" lengthAdjust="spacingAndGlyphs">8</text>
<line x1="12.9" y1="165.30" x2="16.4" y2="165.30" stroke="#5a5a5a" stroke-width="1.1"/>
<text x="-0.68" y="168.60" font-size="9.22" fill="#262626" textLength="10.83" lengthAdjust="spacingAndGlyphs">10</text>
<line x1="12.9" y1="87.30" x2="16.4" y2="87.30" stroke="#5a5a5a" stroke-width="1.1"/>
<text x="-0.39" y="90.60" font-size="9.22" fill="#262626" textLength="10.53" lengthAdjust="spacingAndGlyphs">12</text>
<line x1="12.9" y1="9.30" x2="16.4" y2="9.30" stroke="#5a5a5a" stroke-width="1.1"/>
<text x="-0.77" y="12.60" font-size="9.22" fill="#262626" textLength="10.92" lengthAdjust="spacingAndGlyphs">14</text>
<line x1="87.20" y1="390.7" x2="87.20" y2="394" stroke="#5a5a5a" stroke-width="1.1"/>
<text x="84.36" y="403.40" font-size="9.22" fill="#262626" textLength="5.67" lengthAdjust="spacingAndGlyphs">6</text>
<line x1="165.00" y1="390.7" x2="165.00" y2="394" stroke="#5a5a5a" stroke-width="1.1"/>
<text x="162.18" y="403.40" font-size="9.22" fill="#262626" textLength="5.64" lengthAdjust="spacingAndGlyphs">8</text>
<line x1="242.80" y1="390.7" x2="242.80" y2="394" stroke="#5a5a5a" stroke-width="1.1"/>
<text x="237.39" y="403.40" font-size="9.22" fill="#262626" textLength="10.83" lengthAdjust="spacingAndGlyphs">10</text>
<line x1="320.60" y1="390.7" x2="320.60" y2="394" stroke="#5a5a5a" stroke-width="1.1"/>
<text x="315.33" y="403.40" font-size="9.22" fill="#262626" textLength="10.53" lengthAdjust="spacingAndGlyphs">12</text>
<line x1="398.40" y1="390.7" x2="398.40" y2="394" stroke="#5a5a5a" stroke-width="1.1"/>
<text x="392.94" y="403.40" font-size="9.22" fill="#262626" textLength="10.92" lengthAdjust="spacingAndGlyphs">14</text>
<text x="25.20" y="16.70" font-size="8.50" font-weight="bold" fill="#111" textLength="37.60" lengthAdjust="spacingAndGlyphs">a) UMAP</text>
<rect x="445.6" y="0.6" width="231.8" height="171.6" rx="2.5" ry="2.5" fill="#fff" stroke="#d0d0d0" stroke-width="1"/>
<circle cx="458.10" cy="7.90" r="2.70" fill="#f77189" stroke="#fff" stroke-width="0.5"/>
<text x="477.04" y="10.80" font-size="9.43" fill="#262626" textLength="133.45" lengthAdjust="spacingAndGlyphs">Lipids and lipid-like molecules</text>
<polygon points="458.10,18.70 458.72,20.05 460.19,20.22 459.10,21.22 459.39,22.68 458.10,21.95 456.81,22.68 457.10,21.22 456.01,20.22 457.48,20.05" fill="#eb8032" stroke="#fff" stroke-width="0.5"/>
<text x="477.04" y="23.80" font-size="9.43" fill="#262626" textLength="51.23" lengthAdjust="spacingAndGlyphs">Benzenoids</text>
<rect x="455.40" y="31.20" width="5.40" height="5.40" fill="#c19632" stroke="#fff" stroke-width="0.5"/>
<text x="477.04" y="36.80" font-size="9.43" fill="#262626" textLength="141.46" lengthAdjust="spacingAndGlyphs">Organoheterocyclic compounds</text>
<polygon points="458.10,44.57 460.78,49.22 455.42,49.22" fill="#a0a131" stroke="#fff" stroke-width="0.5"/>
<text x="477.04" y="49.80" font-size="9.43" fill="#262626" textLength="132.66" lengthAdjust="spacingAndGlyphs">Organic acids and derivatives</text>
<polygon points="458.10,56.50 461.50,59.90 458.10,63.30 454.70,59.90" fill="#71ac31" stroke="#fff" stroke-width="0.5"/>
<text x="477.04" y="62.80" font-size="9.43" fill="#262626" textLength="129.61" lengthAdjust="spacingAndGlyphs">Organic nitrogen compounds</text>
<polygon points="459.06,70.59 460.41,71.94 460.41,73.86 459.06,75.21 457.14,75.21 455.79,73.86 455.79,71.94 457.14,70.59" fill="#33b16f" stroke="#fff" stroke-width="0.5"/>
<text x="477.04" y="75.80" font-size="9.43" fill="#262626" textLength="124.80" lengthAdjust="spacingAndGlyphs">Organic oxygen compounds</text>
<polygon points="458.10,83.20 459.05,84.95 460.80,85.90 459.05,86.85 458.10,88.60 457.15,86.85 455.40,85.90 457.15,84.95" fill="#35ae97" stroke="#fff" stroke-width="0.5"/>
<text x="477.04" y="88.80" font-size="9.43" fill="#262626" textLength="112.23" lengthAdjust="spacingAndGlyphs">Alkaloids and derivatives</text>
<polygon points="458.10,101.22 455.42,96.58 460.78,96.58" fill="#36abb0" stroke="#fff" stroke-width="0.5"/>
<text x="477.04" y="101.80" font-size="9.43" fill="#262626" textLength="152.65" lengthAdjust="spacingAndGlyphs">Phenylpropanoids and polyketides</text>
<path d="M456.00,109.80L460.20,114.00M456.00,114.00L460.20,109.80" stroke="#39a8cc" stroke-width="1.40" fill="none"/>
<text x="477.04" y="114.80" font-size="9.43" fill="#262626" textLength="112.77" lengthAdjust="spacingAndGlyphs">Organosulfur compounds</text>
<path d="M455.40,124.90L460.80,124.90M458.10,122.20L458.10,127.60" stroke="#639df4" stroke-width="1.50" fill="none"/>
<text x="477.04" y="127.80" font-size="9.43" fill="#262626" textLength="197.03" lengthAdjust="spacingAndGlyphs">Lignans, neolignans and related compounds</text>
<polygon points="458.10,135.20 460.67,137.07 459.69,140.08 456.51,140.08 455.53,137.07" fill="#b486f4" stroke="#fff" stroke-width="0.5"/>
<text x="477.04" y="140.80" font-size="9.43" fill="#262626" textLength="181.52" lengthAdjust="spacingAndGlyphs">Nucleosides, nucleotides, and analogues</text>
<polygon points="455.85,150.90 460.35,148.30 460.35,153.50" fill="#f35cf4" stroke="#fff" stroke-width="0.5"/>
<text x="477.04" y="153.80" font-size="9.43" fill="#262626" textLength="109.42" lengthAdjust="spacingAndGlyphs">Hydrocarbon derivatives</text>
<rect x="455.70" y="161.50" width="4.80" height="4.80" fill="#f668be" stroke="#fff" stroke-width="0.5"/>
<text x="477.04" y="166.80" font-size="9.43" fill="#262626" textLength="123.36" lengthAdjust="spacingAndGlyphs">Organohalogen compounds</text>
<rect x="452.80" y="204.28" width="14.2" height="23.32" fill="#e68193" stroke="#333" stroke-width="0.9"/>
<text x="452.08" y="202.48" font-size="8.80" fill="#262626" textLength="15.64" lengthAdjust="spacingAndGlyphs">136</text>
<rect x="469.40" y="189.01" width="14.2" height="38.59" fill="#d48349" stroke="#333" stroke-width="0.9"/>
<text x="468.63" y="187.21" font-size="8.80" fill="#262626" textLength="15.74" lengthAdjust="spacingAndGlyphs">225</text>
<rect x="486.00" y="190.04" width="14.2" height="37.56" fill="#af8f44" stroke="#333" stroke-width="0.9"/>
<text x="485.16" y="188.24" font-size="8.80" fill="#262626" textLength="15.88" lengthAdjust="spacingAndGlyphs">219</text>
<rect x="502.60" y="194.84" width="14.2" height="32.76" fill="#92933f" stroke="#333" stroke-width="0.9"/>
<text x="502.00" y="193.04" font-size="8.80" fill="#262626" textLength="15.40" lengthAdjust="spacingAndGlyphs">191</text>
<rect x="519.20" y="222.97" width="14.2" height="4.63" fill="#709d41" stroke="#333" stroke-width="0.9"/>
<text x="521.06" y="221.17" font-size="8.80" fill="#262626" textLength="10.48" lengthAdjust="spacingAndGlyphs">27</text>
<rect x="535.80" y="216.80" width="14.2" height="10.80" fill="#43a170" stroke="#333" stroke-width="0.9"/>
<text x="537.63" y="215.00" font-size="8.80" fill="#262626" textLength="10.55" lengthAdjust="spacingAndGlyphs">63</text>
<rect x="552.40" y="224.17" width="14.2" height="3.43" fill="#449f8e" stroke="#333" stroke-width="0.9"/>
<text x="554.18" y="222.37" font-size="8.80" fill="#262626" textLength="10.63" lengthAdjust="spacingAndGlyphs">20</text>
<rect x="569.00" y="198.27" width="14.2" height="29.33" fill="#469da1" stroke="#333" stroke-width="0.9"/>
<text x="568.40" y="196.47" font-size="8.80" fill="#262626" textLength="15.40" lengthAdjust="spacingAndGlyphs">171</text>
<rect x="585.60" y="227.09" width="14.2" height="0.51" fill="#4b9fb9" stroke="#333" stroke-width="0.9"/>
<text x="590.09" y="225.29" font-size="8.80" fill="#262626" textLength="5.21" lengthAdjust="spacingAndGlyphs">3</text>
<rect x="602.20" y="226.57" width="14.2" height="1.03" fill="#75a0e2" stroke="#333" stroke-width="0.9"/>
<text x="606.59" y="224.77" font-size="8.80" fill="#262626" textLength="5.41" lengthAdjust="spacingAndGlyphs">6</text>
<rect x="618.80" y="226.74" width="14.2" height="0.86" fill="#b694e7" stroke="#333" stroke-width="0.9"/>
<text x="623.33" y="224.94" font-size="8.80" fill="#262626" textLength="5.15" lengthAdjust="spacingAndGlyphs">5</text>
<rect x="635.40" y="227.43" width="14.2" height="0.17" fill="#e06fe1" stroke="#333" stroke-width="0.9"/>
<text x="640.08" y="225.63" font-size="8.80" fill="#262626" textLength="4.83" lengthAdjust="spacingAndGlyphs">1</text>
<rect x="652.00" y="227.09" width="14.2" height="0.51" fill="#e47aba" stroke="#333" stroke-width="0.9"/>
<text x="656.49" y="225.29" font-size="8.80" fill="#262626" textLength="5.21" lengthAdjust="spacingAndGlyphs">3</text>
<line x1="435.4" y1="193.0" x2="435.4" y2="227.6" stroke="#7a7a7a" stroke-width="1.1"/>
<line x1="433.6" y1="227.60" x2="435.4" y2="227.60" stroke="#8a8a8a" stroke-width="1.1"/>
<text x="427.55" y="230.80" font-size="8.16" fill="#262626" textLength="5.02" lengthAdjust="spacingAndGlyphs">0</text>
<line x1="433.6" y1="210.45" x2="435.4" y2="210.45" stroke="#8a8a8a" stroke-width="1.1"/>
<text x="418.09" y="213.65" font-size="8.16" fill="#262626" textLength="14.48" lengthAdjust="spacingAndGlyphs">100</text>
<line x1="433.6" y1="193.30" x2="435.4" y2="193.30" stroke="#8a8a8a" stroke-width="1.1"/>
<text x="417.81" y="196.50" font-size="8.16" fill="#262626" textLength="14.76" lengthAdjust="spacingAndGlyphs">200</text>
<text x="590.97" y="192.00" font-size="8.53" font-weight="bold" fill="#111" textLength="93.93" lengthAdjust="spacingAndGlyphs">b) Unique compounds</text>
<text x="629.77" y="203.40" font-size="8.53" font-weight="bold" fill="#111" textLength="55.13" lengthAdjust="spacingAndGlyphs">in each class</text>
<line x1="459.90" y1="242.4" x2="459.90" y2="260.7" stroke="#4a4a4a" stroke-width="0.9"/>
<line x1="459.90" y1="294.3" x2="459.90" y2="342" stroke="#4a4a4a" stroke-width="0.9"/>
<line x1="456.35" y1="242.4" x2="463.45" y2="242.4" stroke="#4a4a4a" stroke-width="0.9"/>
<line x1="456.35" y1="342" x2="463.45" y2="342" stroke="#4a4a4a" stroke-width="0.9"/>
<rect x="452.80" y="260.7" width="14.2" height="33.60" fill="#e68193" stroke="#4a4a4a" stroke-width="0.9"/>
<line x1="452.80" y1="273.3" x2="467.00" y2="273.3" stroke="#4a4a4a" stroke-width="0.9"/>
<line x1="476.50" y1="237.7" x2="476.50" y2="257.2" stroke="#4a4a4a" stroke-width="0.9"/>
<line x1="476.50" y1="292.1" x2="476.50" y2="343.8" stroke="#4a4a4a" stroke-width="0.9"/>
<line x1="472.95" y1="237.7" x2="480.05" y2="237.7" stroke="#4a4a4a" stroke-width="0.9"/>
<line x1="472.95" y1="343.8" x2="480.05" y2="343.8" stroke="#4a4a4a" stroke-width="0.9"/>
<rect x="469.40" y="257.2" width="14.2" height="34.90" fill="#d48349" stroke="#4a4a4a" stroke-width="0.9"/>
<line x1="469.40" y1="270.1" x2="483.60" y2="270.1" stroke="#4a4a4a" stroke-width="0.9"/>
<line x1="493.10" y1="239.4" x2="493.10" y2="254" stroke="#4a4a4a" stroke-width="0.9"/>
<line x1="493.10" y1="287.4" x2="493.10" y2="338.1" stroke="#4a4a4a" stroke-width="0.9"/>
<line x1="489.55" y1="239.4" x2="496.65" y2="239.4" stroke="#4a4a4a" stroke-width="0.9"/>
<line x1="489.55" y1="338.1" x2="496.65" y2="338.1" stroke="#4a4a4a" stroke-width="0.9"/>
<rect x="486.00" y="254" width="14.2" height="33.40" fill="#af8f44" stroke="#4a4a4a" stroke-width="0.9"/>
<line x1="486.00" y1="267.6" x2="500.20" y2="267.6" stroke="#4a4a4a" stroke-width="0.9"/>
<line x1="509.70" y1="241.1" x2="509.70" y2="261.4" stroke="#4a4a4a" stroke-width="0.9"/>
<line x1="509.70" y1="290.1" x2="509.70" y2="333.7" stroke="#4a4a4a" stroke-width="0.9"/>
<line x1="506.15" y1="241.1" x2="513.25" y2="241.1" stroke="#4a4a4a" stroke-width="0.9"/>
<line x1="506.15" y1="333.7" x2="513.25" y2="333.7" stroke="#4a4a4a" stroke-width="0.9"/>
<rect x="502.60" y="261.4" width="14.2" height="28.70" fill="#92933f" stroke="#4a4a4a" stroke-width="0.9"/>
<line x1="502.60" y1="273.3" x2="516.80" y2="273.3" stroke="#4a4a4a" stroke-width="0.9"/>
<line x1="526.30" y1="238.4" x2="526.30" y2="253.5" stroke="#4a4a4a" stroke-width="0.9"/>
<line x1="526.30" y1="293.6" x2="526.30" y2="353" stroke="#4a4a4a" stroke-width="0.9"/>
<line x1="522.75" y1="238.4" x2="529.85" y2="238.4" stroke="#4a4a4a" stroke-width="0.9"/>
<line x1="522.75" y1="353" x2="529.85" y2="353" stroke="#4a4a4a" stroke-width="0.9"/>
<rect x="519.20" y="253.5" width="14.2" height="40.10" fill="#709d41" stroke="#4a4a4a" stroke-width="0.9"/>
<line x1="519.20" y1="267.4" x2="533.40" y2="267.4" stroke="#4a4a4a" stroke-width="0.9"/>
<line x1="542.90" y1="241.1" x2="542.90" y2="254.2" stroke="#4a4a4a" stroke-width="0.9"/>
<line x1="542.90" y1="291.4" x2="542.90" y2="345.3" stroke="#4a4a4a" stroke-width="0.9"/>
<line x1="539.35" y1="241.1" x2="546.45" y2="241.1" stroke="#4a4a4a" stroke-width="0.9"/>
<line x1="539.35" y1="345.3" x2="546.45" y2="345.3" stroke="#4a4a4a" stroke-width="0.9"/>
<rect x="535.80" y="254.2" width="14.2" height="37.20" fill="#43a170" stroke="#4a4a4a" stroke-width="0.9"/>
<line x1="535.80" y1="264.4" x2="550.00" y2="264.4" stroke="#4a4a4a" stroke-width="0.9"/>
<line x1="559.50" y1="251.5" x2="559.50" y2="268.3" stroke="#4a4a4a" stroke-width="0.9"/>
<line x1="559.50" y1="288.6" x2="559.50" y2="317.3" stroke="#4a4a4a" stroke-width="0.9"/>
<line x1="555.95" y1="251.5" x2="563.05" y2="251.5" stroke="#4a4a4a" stroke-width="0.9"/>
<line x1="555.95" y1="317.3" x2="563.05" y2="317.3" stroke="#4a4a4a" stroke-width="0.9"/>
<rect x="552.40" y="268.3" width="14.2" height="20.30" fill="#449f8e" stroke="#4a4a4a" stroke-width="0.9"/>
<line x1="552.40" y1="276.3" x2="566.60" y2="276.3" stroke="#4a4a4a" stroke-width="0.9"/>
<line x1="576.10" y1="241.1" x2="576.10" y2="256.7" stroke="#4a4a4a" stroke-width="0.9"/>
<line x1="576.10" y1="280.5" x2="576.10" y2="314.6" stroke="#4a4a4a" stroke-width="0.9"/>
<line x1="572.55" y1="241.1" x2="579.65" y2="241.1" stroke="#4a4a4a" stroke-width="0.9"/>
<line x1="572.55" y1="314.6" x2="579.65" y2="314.6" stroke="#4a4a4a" stroke-width="0.9"/>
<rect x="569.00" y="256.7" width="14.2" height="23.80" fill="#469da1" stroke="#4a4a4a" stroke-width="0.9"/>
<line x1="569.00" y1="266.4" x2="583.20" y2="266.4" stroke="#4a4a4a" stroke-width="0.9"/>
<line x1="592.70" y1="247.8" x2="592.70" y2="255.2" stroke="#4a4a4a" stroke-width="0.9"/>
<line x1="592.70" y1="283.4" x2="592.70" y2="298.3" stroke="#4a4a4a" stroke-width="0.9"/>
<line x1="589.15" y1="247.8" x2="596.25" y2="247.8" stroke="#4a4a4a" stroke-width="0.9"/>
<line x1="589.15" y1="298.3" x2="596.25" y2="298.3" stroke="#4a4a4a" stroke-width="0.9"/>
<rect x="585.60" y="255.2" width="14.2" height="28.20" fill="#4b9fb9" stroke="#4a4a4a" stroke-width="0.9"/>
<line x1="585.60" y1="268.8" x2="599.80" y2="268.8" stroke="#4a4a4a" stroke-width="0.9"/>
<line x1="609.30" y1="265.4" x2="609.30" y2="273" stroke="#4a4a4a" stroke-width="0.9"/>
<line x1="609.30" y1="306.2" x2="609.30" y2="311.1" stroke="#4a4a4a" stroke-width="0.9"/>
<line x1="605.75" y1="265.4" x2="612.85" y2="265.4" stroke="#4a4a4a" stroke-width="0.9"/>
<line x1="605.75" y1="311.1" x2="612.85" y2="311.1" stroke="#4a4a4a" stroke-width="0.9"/>
<rect x="602.20" y="273" width="14.2" height="33.20" fill="#75a0e2" stroke="#4a4a4a" stroke-width="0.9"/>
<line x1="602.20" y1="284.9" x2="616.40" y2="284.9" stroke="#4a4a4a" stroke-width="0.9"/>
<line x1="625.90" y1="244.1" x2="625.90" y2="255.5" stroke="#4a4a4a" stroke-width="0.9"/>
<line x1="625.90" y1="278.2" x2="625.90" y2="310.4" stroke="#4a4a4a" stroke-width="0.9"/>
<line x1="622.35" y1="244.1" x2="629.45" y2="244.1" stroke="#4a4a4a" stroke-width="0.9"/>
<line x1="622.35" y1="310.4" x2="629.45" y2="310.4" stroke="#4a4a4a" stroke-width="0.9"/>
<rect x="618.80" y="255.5" width="14.2" height="22.70" fill="#b694e7" stroke="#4a4a4a" stroke-width="0.9"/>
<line x1="618.80" y1="260.4" x2="633.00" y2="260.4" stroke="#4a4a4a" stroke-width="0.9"/>
<line x1="642.50" y1="288.4" x2="642.50" y2="290.6" stroke="#4a4a4a" stroke-width="0.9"/>
<line x1="642.50" y1="304.7" x2="642.50" y2="316.6" stroke="#4a4a4a" stroke-width="0.9"/>
<line x1="638.95" y1="288.4" x2="646.05" y2="288.4" stroke="#4a4a4a" stroke-width="0.9"/>
<line x1="638.95" y1="316.6" x2="646.05" y2="316.6" stroke="#4a4a4a" stroke-width="0.9"/>
<rect x="635.40" y="290.6" width="14.2" height="14.10" fill="#e06fe1" stroke="#4a4a4a" stroke-width="0.9"/>
<line x1="635.40" y1="293.3" x2="649.60" y2="293.3" stroke="#4a4a4a" stroke-width="0.9"/>
<line x1="659.10" y1="258.4" x2="659.10" y2="274.5" stroke="#4a4a4a" stroke-width="0.9"/>
<line x1="659.10" y1="322" x2="659.10" y2="343.2" stroke="#4a4a4a" stroke-width="0.9"/>
<line x1="655.55" y1="258.4" x2="662.65" y2="258.4" stroke="#4a4a4a" stroke-width="0.9"/>
<line x1="655.55" y1="343.2" x2="662.65" y2="343.2" stroke="#4a4a4a" stroke-width="0.9"/>
<rect x="652.00" y="274.5" width="14.2" height="47.50" fill="#e47aba" stroke="#4a4a4a" stroke-width="0.9"/>
<line x1="652.00" y1="298" x2="666.20" y2="298" stroke="#4a4a4a" stroke-width="0.9"/>
<text x="449.85" y="355.80" font-size="6.36" fill="#4a4a4a" textLength="20.29" lengthAdjust="spacingAndGlyphs">n=684</text>
<text x="464.59" y="366.60" font-size="6.36" fill="#4a4a4a" textLength="24.02" lengthAdjust="spacingAndGlyphs">n=1789</text>
<text x="481.33" y="355.80" font-size="6.36" fill="#4a4a4a" textLength="23.93" lengthAdjust="spacingAndGlyphs">n=1347</text>
<text x="497.52" y="346.00" font-size="6.36" fill="#4a4a4a" textLength="23.96" lengthAdjust="spacingAndGlyphs">n=1693</text>
<text x="516.23" y="368.20" font-size="6.36" fill="#4a4a4a" textLength="20.15" lengthAdjust="spacingAndGlyphs">n=243</text>
<text x="532.90" y="357.80" font-size="6.36" fill="#4a4a4a" textLength="20.21" lengthAdjust="spacingAndGlyphs">n=489</text>
<text x="550.96" y="336.20" font-size="6.36" fill="#4a4a4a" textLength="16.47" lengthAdjust="spacingAndGlyphs">n=84</text>
<text x="563.92" y="326.90" font-size="6.36" fill="#4a4a4a" textLength="23.96" lengthAdjust="spacingAndGlyphs">n=1033</text>
<text x="584.47" y="309.40" font-size="6.36" fill="#4a4a4a" textLength="16.26" lengthAdjust="spacingAndGlyphs">n=11</text>
<text x="601.20" y="321.20" font-size="6.36" fill="#4a4a4a" textLength="16.21" lengthAdjust="spacingAndGlyphs">n=22</text>
<text x="617.81" y="331.00" font-size="6.36" fill="#4a4a4a" textLength="16.39" lengthAdjust="spacingAndGlyphs">n=19</text>
<text x="636.04" y="340.80" font-size="6.36" fill="#4a4a4a" textLength="12.51" lengthAdjust="spacingAndGlyphs">n=3</text>
<text x="650.57" y="356.80" font-size="6.36" fill="#4a4a4a" textLength="16.26" lengthAdjust="spacingAndGlyphs">n=21</text>
<line x1="435.4" y1="238.1" x2="435.4" y2="401.1" stroke="#7a7a7a" stroke-width="1.1"/>
<line x1="433.6" y1="401.10" x2="435.4" y2="401.10" stroke="#8a8a8a" stroke-width="1.1"/>
<text x="419.76" y="403.80" font-size="8.06" fill="#262626" textLength="12.21" lengthAdjust="spacingAndGlyphs">0.0</text>
<line x1="433.6" y1="368.50" x2="435.4" y2="368.50" stroke="#8a8a8a" stroke-width="1.1"/>
<text x="420.01" y="371.20" font-size="8.06" fill="#262626" textLength="11.95" lengthAdjust="spacingAndGlyphs">0.2</text>
<line x1="433.6" y1="335.90" x2="435.4" y2="335.90" stroke="#8a8a8a" stroke-width="1.1"/>
<text x="419.68" y="338.60" font-size="8.06" fill="#262626" textLength="12.29" lengthAdjust="spacingAndGlyphs">0.4</text>
<line x1="433.6" y1="303.30" x2="435.4" y2="303.30" stroke="#8a8a8a" stroke-width="1.1"/>
<text x="419.73" y="306.00" font-size="8.06" fill="#262626" textLength="12.23" lengthAdjust="spacingAndGlyphs">0.6</text>
<line x1="433.6" y1="270.70" x2="435.4" y2="270.70" stroke="#8a8a8a" stroke-width="1.1"/>
<text x="419.77" y="273.40" font-size="8.06" fill="#262626" textLength="12.19" lengthAdjust="spacingAndGlyphs">0.8</text>
<line x1="433.6" y1="238.10" x2="435.4" y2="238.10" stroke="#8a8a8a" stroke-width="1.1"/>
<text x="420.09" y="240.80" font-size="8.06" fill="#262626" textLength="11.88" lengthAdjust="spacingAndGlyphs">1.0</text>
<text x="600.42" y="377.10" font-size="8.46" font-weight="bold" fill="#111" textLength="82.27" lengthAdjust="spacingAndGlyphs">c) Cosine similarity</text>
<text x="648.40" y="388.00" font-size="8.46" font-weight="bold" fill="#111" textLength="34.29" lengthAdjust="spacingAndGlyphs">by class</text>
</svg></body></html>
